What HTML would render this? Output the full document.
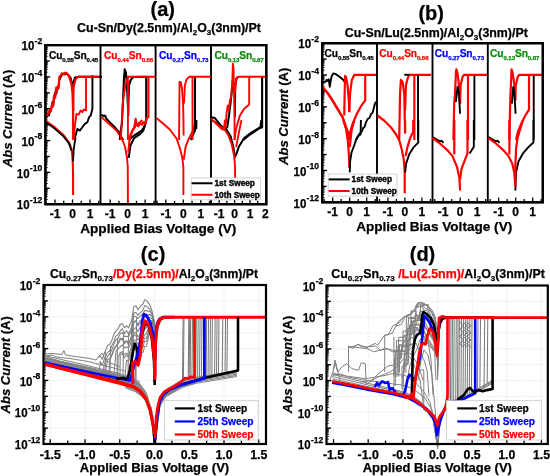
<!DOCTYPE html><html><head><meta charset="utf-8"><style>html,body{margin:0;padding:0;background:#fff;overflow:hidden}svg{display:block;filter:blur(0.3px)}</style></head><body><svg width="550" height="476" viewBox="0 0 550 476">
<rect width="550" height="476" fill="#fff"/>
<line x1="55" y1="204.2" x2="55" y2="199.4" stroke="#000" stroke-width="1.3"/>
<line x1="63.75" y1="204.2" x2="63.75" y2="200.8" stroke="#000" stroke-width="1.3"/>
<line x1="72.5" y1="204.2" x2="72.5" y2="199.4" stroke="#000" stroke-width="1.3"/>
<line x1="81.25" y1="204.2" x2="81.25" y2="200.8" stroke="#000" stroke-width="1.3"/>
<line x1="90" y1="204.2" x2="90" y2="199.4" stroke="#000" stroke-width="1.3"/>
<line x1="98.75" y1="204.2" x2="98.75" y2="200.8" stroke="#000" stroke-width="1.3"/>
<text x="55" y="218.2" font-size="12" text-anchor="middle" fill="#000" font-family="Liberation Sans, sans-serif" font-weight="bold" stroke-width="0.25" paint-order="fill"  stroke="#000">-1</text>
<text x="72.5" y="218.2" font-size="12" text-anchor="middle" fill="#000" font-family="Liberation Sans, sans-serif" font-weight="bold" stroke-width="0.25" paint-order="fill"  stroke="#000">0</text>
<text x="90" y="218.2" font-size="12" text-anchor="middle" fill="#000" font-family="Liberation Sans, sans-serif" font-weight="bold" stroke-width="0.25" paint-order="fill"  stroke="#000">1</text>
<line x1="110.2" y1="204.2" x2="110.2" y2="199.4" stroke="#000" stroke-width="1.3"/>
<line x1="118.95" y1="204.2" x2="118.95" y2="200.8" stroke="#000" stroke-width="1.3"/>
<line x1="127.7" y1="204.2" x2="127.7" y2="199.4" stroke="#000" stroke-width="1.3"/>
<line x1="136.45" y1="204.2" x2="136.45" y2="200.8" stroke="#000" stroke-width="1.3"/>
<line x1="145.2" y1="204.2" x2="145.2" y2="199.4" stroke="#000" stroke-width="1.3"/>
<line x1="153.95" y1="204.2" x2="153.95" y2="200.8" stroke="#000" stroke-width="1.3"/>
<text x="110.2" y="218.2" font-size="12" text-anchor="middle" fill="#000" font-family="Liberation Sans, sans-serif" font-weight="bold" stroke-width="0.25" paint-order="fill"  stroke="#000">-1</text>
<text x="127.7" y="218.2" font-size="12" text-anchor="middle" fill="#000" font-family="Liberation Sans, sans-serif" font-weight="bold" stroke-width="0.25" paint-order="fill"  stroke="#000">0</text>
<text x="145.2" y="218.2" font-size="12" text-anchor="middle" fill="#000" font-family="Liberation Sans, sans-serif" font-weight="bold" stroke-width="0.25" paint-order="fill"  stroke="#000">1</text>
<line x1="157.05" y1="204.2" x2="157.05" y2="200.8" stroke="#000" stroke-width="1.3"/>
<line x1="165.8" y1="204.2" x2="165.8" y2="199.4" stroke="#000" stroke-width="1.3"/>
<line x1="174.55" y1="204.2" x2="174.55" y2="200.8" stroke="#000" stroke-width="1.3"/>
<line x1="183.3" y1="204.2" x2="183.3" y2="199.4" stroke="#000" stroke-width="1.3"/>
<line x1="192.05" y1="204.2" x2="192.05" y2="200.8" stroke="#000" stroke-width="1.3"/>
<line x1="200.8" y1="204.2" x2="200.8" y2="199.4" stroke="#000" stroke-width="1.3"/>
<line x1="209.55" y1="204.2" x2="209.55" y2="200.8" stroke="#000" stroke-width="1.3"/>
<text x="165.8" y="218.2" font-size="12" text-anchor="middle" fill="#000" font-family="Liberation Sans, sans-serif" font-weight="bold" stroke-width="0.25" paint-order="fill"  stroke="#000">-1</text>
<text x="183.3" y="218.2" font-size="12" text-anchor="middle" fill="#000" font-family="Liberation Sans, sans-serif" font-weight="bold" stroke-width="0.25" paint-order="fill"  stroke="#000">0</text>
<text x="200.8" y="218.2" font-size="12" text-anchor="middle" fill="#000" font-family="Liberation Sans, sans-serif" font-weight="bold" stroke-width="0.25" paint-order="fill"  stroke="#000">1</text>
<line x1="219.2" y1="204.2" x2="219.2" y2="199.4" stroke="#000" stroke-width="1.3"/>
<line x1="226.9" y1="204.2" x2="226.9" y2="200.8" stroke="#000" stroke-width="1.3"/>
<line x1="234.6" y1="204.2" x2="234.6" y2="199.4" stroke="#000" stroke-width="1.3"/>
<line x1="242.3" y1="204.2" x2="242.3" y2="200.8" stroke="#000" stroke-width="1.3"/>
<line x1="250" y1="204.2" x2="250" y2="199.4" stroke="#000" stroke-width="1.3"/>
<line x1="257.7" y1="204.2" x2="257.7" y2="200.8" stroke="#000" stroke-width="1.3"/>
<text x="219.2" y="218.2" font-size="12" text-anchor="middle" fill="#000" font-family="Liberation Sans, sans-serif" font-weight="bold" stroke-width="0.25" paint-order="fill"  stroke="#000">-1</text>
<text x="234.6" y="218.2" font-size="12" text-anchor="middle" fill="#000" font-family="Liberation Sans, sans-serif" font-weight="bold" stroke-width="0.25" paint-order="fill"  stroke="#000">0</text>
<text x="250" y="218.2" font-size="12" text-anchor="middle" fill="#000" font-family="Liberation Sans, sans-serif" font-weight="bold" stroke-width="0.25" paint-order="fill"  stroke="#000">1</text>
<text x="265.4" y="218.2" font-size="12" text-anchor="middle" fill="#000" font-family="Liberation Sans, sans-serif" font-weight="bold" stroke-width="0.25" paint-order="fill"  stroke="#000">2</text>
<line x1="45.4" y1="204.2" x2="50.2" y2="204.2" stroke="#000" stroke-width="1.4"/>
<line x1="45.4" y1="199.41" x2="47.8" y2="199.41" stroke="#000" stroke-width="0.8"/>
<line x1="45.4" y1="196.61" x2="47.8" y2="196.61" stroke="#000" stroke-width="0.8"/>
<line x1="45.4" y1="194.62" x2="47.8" y2="194.62" stroke="#000" stroke-width="0.8"/>
<line x1="45.4" y1="193.08" x2="47.8" y2="193.08" stroke="#000" stroke-width="0.8"/>
<line x1="45.4" y1="191.82" x2="47.8" y2="191.82" stroke="#000" stroke-width="0.8"/>
<line x1="45.4" y1="190.75" x2="47.8" y2="190.75" stroke="#000" stroke-width="0.8"/>
<line x1="45.4" y1="189.83" x2="47.8" y2="189.83" stroke="#000" stroke-width="0.8"/>
<line x1="45.4" y1="189.02" x2="47.8" y2="189.02" stroke="#000" stroke-width="0.8"/>
<text x="42.2" y="203.1" font-size="8.6" text-anchor="end" font-family="Liberation Sans, sans-serif" font-weight="bold" stroke-width="0.25" paint-order="fill" stroke="#000">-12</text>
<text x="29.57" y="209.4" font-size="13" text-anchor="end" textLength="12.8" lengthAdjust="spacingAndGlyphs" font-family="Liberation Sans, sans-serif" font-weight="bold" stroke-width="0.25" paint-order="fill" stroke="#000">10</text>
<line x1="45.4" y1="188.29" x2="49.8" y2="188.29" stroke="#000" stroke-width="1.4"/>
<line x1="45.4" y1="183.5" x2="47.8" y2="183.5" stroke="#000" stroke-width="0.8"/>
<line x1="45.4" y1="180.7" x2="47.8" y2="180.7" stroke="#000" stroke-width="0.8"/>
<line x1="45.4" y1="178.71" x2="47.8" y2="178.71" stroke="#000" stroke-width="0.8"/>
<line x1="45.4" y1="177.17" x2="47.8" y2="177.17" stroke="#000" stroke-width="0.8"/>
<line x1="45.4" y1="175.91" x2="47.8" y2="175.91" stroke="#000" stroke-width="0.8"/>
<line x1="45.4" y1="174.84" x2="47.8" y2="174.84" stroke="#000" stroke-width="0.8"/>
<line x1="45.4" y1="173.92" x2="47.8" y2="173.92" stroke="#000" stroke-width="0.8"/>
<line x1="45.4" y1="173.11" x2="47.8" y2="173.11" stroke="#000" stroke-width="0.8"/>
<line x1="45.4" y1="172.38" x2="50.2" y2="172.38" stroke="#000" stroke-width="1.4"/>
<line x1="45.4" y1="167.59" x2="47.8" y2="167.59" stroke="#000" stroke-width="0.8"/>
<line x1="45.4" y1="164.79" x2="47.8" y2="164.79" stroke="#000" stroke-width="0.8"/>
<line x1="45.4" y1="162.8" x2="47.8" y2="162.8" stroke="#000" stroke-width="0.8"/>
<line x1="45.4" y1="161.26" x2="47.8" y2="161.26" stroke="#000" stroke-width="0.8"/>
<line x1="45.4" y1="160" x2="47.8" y2="160" stroke="#000" stroke-width="0.8"/>
<line x1="45.4" y1="158.93" x2="47.8" y2="158.93" stroke="#000" stroke-width="0.8"/>
<line x1="45.4" y1="158.01" x2="47.8" y2="158.01" stroke="#000" stroke-width="0.8"/>
<line x1="45.4" y1="157.2" x2="47.8" y2="157.2" stroke="#000" stroke-width="0.8"/>
<text x="42.2" y="171.28" font-size="8.6" text-anchor="end" font-family="Liberation Sans, sans-serif" font-weight="bold" stroke-width="0.25" paint-order="fill" stroke="#000">-10</text>
<text x="29.57" y="177.58" font-size="13" text-anchor="end" textLength="12.8" lengthAdjust="spacingAndGlyphs" font-family="Liberation Sans, sans-serif" font-weight="bold" stroke-width="0.25" paint-order="fill" stroke="#000">10</text>
<line x1="45.4" y1="156.47" x2="49.8" y2="156.47" stroke="#000" stroke-width="1.4"/>
<line x1="45.4" y1="151.68" x2="47.8" y2="151.68" stroke="#000" stroke-width="0.8"/>
<line x1="45.4" y1="148.88" x2="47.8" y2="148.88" stroke="#000" stroke-width="0.8"/>
<line x1="45.4" y1="146.89" x2="47.8" y2="146.89" stroke="#000" stroke-width="0.8"/>
<line x1="45.4" y1="145.35" x2="47.8" y2="145.35" stroke="#000" stroke-width="0.8"/>
<line x1="45.4" y1="144.09" x2="47.8" y2="144.09" stroke="#000" stroke-width="0.8"/>
<line x1="45.4" y1="143.02" x2="47.8" y2="143.02" stroke="#000" stroke-width="0.8"/>
<line x1="45.4" y1="142.1" x2="47.8" y2="142.1" stroke="#000" stroke-width="0.8"/>
<line x1="45.4" y1="141.29" x2="47.8" y2="141.29" stroke="#000" stroke-width="0.8"/>
<line x1="45.4" y1="140.56" x2="50.2" y2="140.56" stroke="#000" stroke-width="1.4"/>
<line x1="45.4" y1="135.77" x2="47.8" y2="135.77" stroke="#000" stroke-width="0.8"/>
<line x1="45.4" y1="132.97" x2="47.8" y2="132.97" stroke="#000" stroke-width="0.8"/>
<line x1="45.4" y1="130.98" x2="47.8" y2="130.98" stroke="#000" stroke-width="0.8"/>
<line x1="45.4" y1="129.44" x2="47.8" y2="129.44" stroke="#000" stroke-width="0.8"/>
<line x1="45.4" y1="128.18" x2="47.8" y2="128.18" stroke="#000" stroke-width="0.8"/>
<line x1="45.4" y1="127.11" x2="47.8" y2="127.11" stroke="#000" stroke-width="0.8"/>
<line x1="45.4" y1="126.19" x2="47.8" y2="126.19" stroke="#000" stroke-width="0.8"/>
<line x1="45.4" y1="125.38" x2="47.8" y2="125.38" stroke="#000" stroke-width="0.8"/>
<text x="42.2" y="139.46" font-size="8.6" text-anchor="end" font-family="Liberation Sans, sans-serif" font-weight="bold" stroke-width="0.25" paint-order="fill" stroke="#000">-8</text>
<text x="34.35" y="145.76" font-size="13" text-anchor="end" textLength="12.8" lengthAdjust="spacingAndGlyphs" font-family="Liberation Sans, sans-serif" font-weight="bold" stroke-width="0.25" paint-order="fill" stroke="#000">10</text>
<line x1="45.4" y1="124.65" x2="49.8" y2="124.65" stroke="#000" stroke-width="1.4"/>
<line x1="45.4" y1="119.86" x2="47.8" y2="119.86" stroke="#000" stroke-width="0.8"/>
<line x1="45.4" y1="117.06" x2="47.8" y2="117.06" stroke="#000" stroke-width="0.8"/>
<line x1="45.4" y1="115.07" x2="47.8" y2="115.07" stroke="#000" stroke-width="0.8"/>
<line x1="45.4" y1="113.53" x2="47.8" y2="113.53" stroke="#000" stroke-width="0.8"/>
<line x1="45.4" y1="112.27" x2="47.8" y2="112.27" stroke="#000" stroke-width="0.8"/>
<line x1="45.4" y1="111.2" x2="47.8" y2="111.2" stroke="#000" stroke-width="0.8"/>
<line x1="45.4" y1="110.28" x2="47.8" y2="110.28" stroke="#000" stroke-width="0.8"/>
<line x1="45.4" y1="109.47" x2="47.8" y2="109.47" stroke="#000" stroke-width="0.8"/>
<line x1="45.4" y1="108.74" x2="50.2" y2="108.74" stroke="#000" stroke-width="1.4"/>
<line x1="45.4" y1="103.95" x2="47.8" y2="103.95" stroke="#000" stroke-width="0.8"/>
<line x1="45.4" y1="101.15" x2="47.8" y2="101.15" stroke="#000" stroke-width="0.8"/>
<line x1="45.4" y1="99.16" x2="47.8" y2="99.16" stroke="#000" stroke-width="0.8"/>
<line x1="45.4" y1="97.62" x2="47.8" y2="97.62" stroke="#000" stroke-width="0.8"/>
<line x1="45.4" y1="96.36" x2="47.8" y2="96.36" stroke="#000" stroke-width="0.8"/>
<line x1="45.4" y1="95.29" x2="47.8" y2="95.29" stroke="#000" stroke-width="0.8"/>
<line x1="45.4" y1="94.37" x2="47.8" y2="94.37" stroke="#000" stroke-width="0.8"/>
<line x1="45.4" y1="93.56" x2="47.8" y2="93.56" stroke="#000" stroke-width="0.8"/>
<text x="42.2" y="107.64" font-size="8.6" text-anchor="end" font-family="Liberation Sans, sans-serif" font-weight="bold" stroke-width="0.25" paint-order="fill" stroke="#000">-6</text>
<text x="34.35" y="113.94" font-size="13" text-anchor="end" textLength="12.8" lengthAdjust="spacingAndGlyphs" font-family="Liberation Sans, sans-serif" font-weight="bold" stroke-width="0.25" paint-order="fill" stroke="#000">10</text>
<line x1="45.4" y1="92.83" x2="49.8" y2="92.83" stroke="#000" stroke-width="1.4"/>
<line x1="45.4" y1="88.04" x2="47.8" y2="88.04" stroke="#000" stroke-width="0.8"/>
<line x1="45.4" y1="85.24" x2="47.8" y2="85.24" stroke="#000" stroke-width="0.8"/>
<line x1="45.4" y1="83.25" x2="47.8" y2="83.25" stroke="#000" stroke-width="0.8"/>
<line x1="45.4" y1="81.71" x2="47.8" y2="81.71" stroke="#000" stroke-width="0.8"/>
<line x1="45.4" y1="80.45" x2="47.8" y2="80.45" stroke="#000" stroke-width="0.8"/>
<line x1="45.4" y1="79.38" x2="47.8" y2="79.38" stroke="#000" stroke-width="0.8"/>
<line x1="45.4" y1="78.46" x2="47.8" y2="78.46" stroke="#000" stroke-width="0.8"/>
<line x1="45.4" y1="77.65" x2="47.8" y2="77.65" stroke="#000" stroke-width="0.8"/>
<line x1="45.4" y1="76.92" x2="50.2" y2="76.92" stroke="#000" stroke-width="1.4"/>
<line x1="45.4" y1="72.13" x2="47.8" y2="72.13" stroke="#000" stroke-width="0.8"/>
<line x1="45.4" y1="69.33" x2="47.8" y2="69.33" stroke="#000" stroke-width="0.8"/>
<line x1="45.4" y1="67.34" x2="47.8" y2="67.34" stroke="#000" stroke-width="0.8"/>
<line x1="45.4" y1="65.8" x2="47.8" y2="65.8" stroke="#000" stroke-width="0.8"/>
<line x1="45.4" y1="64.54" x2="47.8" y2="64.54" stroke="#000" stroke-width="0.8"/>
<line x1="45.4" y1="63.47" x2="47.8" y2="63.47" stroke="#000" stroke-width="0.8"/>
<line x1="45.4" y1="62.55" x2="47.8" y2="62.55" stroke="#000" stroke-width="0.8"/>
<line x1="45.4" y1="61.74" x2="47.8" y2="61.74" stroke="#000" stroke-width="0.8"/>
<text x="42.2" y="75.82" font-size="8.6" text-anchor="end" font-family="Liberation Sans, sans-serif" font-weight="bold" stroke-width="0.25" paint-order="fill" stroke="#000">-4</text>
<text x="34.35" y="82.12" font-size="13" text-anchor="end" textLength="12.8" lengthAdjust="spacingAndGlyphs" font-family="Liberation Sans, sans-serif" font-weight="bold" stroke-width="0.25" paint-order="fill" stroke="#000">10</text>
<line x1="45.4" y1="61.01" x2="49.8" y2="61.01" stroke="#000" stroke-width="1.4"/>
<line x1="45.4" y1="56.22" x2="47.8" y2="56.22" stroke="#000" stroke-width="0.8"/>
<line x1="45.4" y1="53.42" x2="47.8" y2="53.42" stroke="#000" stroke-width="0.8"/>
<line x1="45.4" y1="51.43" x2="47.8" y2="51.43" stroke="#000" stroke-width="0.8"/>
<line x1="45.4" y1="49.89" x2="47.8" y2="49.89" stroke="#000" stroke-width="0.8"/>
<line x1="45.4" y1="48.63" x2="47.8" y2="48.63" stroke="#000" stroke-width="0.8"/>
<line x1="45.4" y1="47.56" x2="47.8" y2="47.56" stroke="#000" stroke-width="0.8"/>
<line x1="45.4" y1="46.64" x2="47.8" y2="46.64" stroke="#000" stroke-width="0.8"/>
<line x1="45.4" y1="45.83" x2="47.8" y2="45.83" stroke="#000" stroke-width="0.8"/>
<line x1="45.4" y1="45.1" x2="50.2" y2="45.1" stroke="#000" stroke-width="1.4"/>
<text x="42.2" y="44" font-size="8.6" text-anchor="end" font-family="Liberation Sans, sans-serif" font-weight="bold" stroke-width="0.25" paint-order="fill" stroke="#000">-2</text>
<text x="34.35" y="50.3" font-size="13" text-anchor="end" textLength="12.8" lengthAdjust="spacingAndGlyphs" font-family="Liberation Sans, sans-serif" font-weight="bold" stroke-width="0.25" paint-order="fill" stroke="#000">10</text>
<line x1="100.5" y1="45.1" x2="100.5" y2="204.2" stroke="#000" stroke-width="1.9"/>
<line x1="155.6" y1="45.1" x2="155.6" y2="204.2" stroke="#000" stroke-width="1.9"/>
<line x1="211" y1="45.1" x2="211" y2="204.2" stroke="#000" stroke-width="1.9"/>
<text x="48.9" y="58.6" font-size="10.2" fill="#000" font-family="Liberation Sans, sans-serif" font-weight="bold" stroke-width="0.25" paint-order="fill" letter-spacing="-0.1" stroke="#000">Cu<tspan font-size="6.1" dy="3.6">0.55</tspan><tspan dy="-3.6">Sn</tspan><tspan font-size="6.1" dy="3.6">0.45</tspan></text>
<text x="104" y="58.6" font-size="10.2" fill="#ff0000" font-family="Liberation Sans, sans-serif" font-weight="bold" stroke-width="0.25" paint-order="fill" letter-spacing="-0.1" stroke="#ff0000">Cu<tspan font-size="6.1" dy="3.6">0.44</tspan><tspan dy="-3.6">Sn</tspan><tspan font-size="6.1" dy="3.6">0.56</tspan></text>
<text x="159.1" y="58.6" font-size="10.2" fill="#0000ff" font-family="Liberation Sans, sans-serif" font-weight="bold" stroke-width="0.25" paint-order="fill" letter-spacing="-0.1" stroke="#0000ff">Cu<tspan font-size="6.1" dy="3.6">0.27</tspan><tspan dy="-3.6">Sn</tspan><tspan font-size="6.1" dy="3.6">0.73</tspan></text>
<text x="214.5" y="58.6" font-size="10.2" fill="#0b8a0b" font-family="Liberation Sans, sans-serif" font-weight="bold" stroke-width="0.25" paint-order="fill" letter-spacing="-0.1" stroke="#0b8a0b">Cu<tspan font-size="6.1" dy="3.6">0.13</tspan><tspan dy="-3.6">Sn</tspan><tspan font-size="6.1" dy="3.6">0.87</tspan></text>
<rect x="45.4" y="45.1" width="220.9" height="159.1" fill="none" stroke="#000" stroke-width="2.2"/>
<text x="162.8" y="16.2" font-size="20" text-anchor="middle" fill="#000" font-family="Liberation Sans, sans-serif" font-weight="bold" stroke-width="0.25" paint-order="fill"  stroke="#000">(a)</text>
<text x="169" y="32.4" font-size="12.4" text-anchor="middle" font-family="Liberation Sans, sans-serif" font-weight="bold" stroke-width="0.25" paint-order="fill" stroke="#000">Cu-Sn/Dy(2.5nm)/Al<tspan font-size="8" dy="3">2</tspan><tspan dy="-3">O</tspan><tspan font-size="8" dy="3">3</tspan><tspan dy="-3">(3nm)/Pt</tspan></text>
<text x="158.3" y="232.6" font-size="13.6" text-anchor="middle" fill="#000" font-family="Liberation Sans, sans-serif" font-weight="bold" stroke-width="0.25" paint-order="fill"  stroke="#000">Applied Bias Voltage (V)</text>
<text x="12" y="118.5" font-size="13.1" text-anchor="middle" font-family="Liberation Sans, sans-serif" font-weight="bold" stroke-width="0.25" paint-order="fill" transform="rotate(-90 12 118.5)" stroke="#000"><tspan font-style="italic">Abs Current</tspan> (A)</text>
<polyline points="45.61,120.9 54.65,127.23 63.69,135.36 69.11,142.58 71.82,149.81 72.72,161.55 73.08,174.2 73.08,194.98" fill="none" stroke="#ff0000" stroke-width="2.1" stroke-linejoin="round" stroke-linecap="butt" />
<polyline points="45.61,122.17 54.65,128.67 63.69,136.62 69.11,143.85 71.46,150.71" fill="none" stroke="#000000" stroke-width="1.7" stroke-linejoin="round" stroke-linecap="butt" />
<polyline points="92.42,75.13 92.42,108.74 90.74,115.46 89.06,117.14 87.38,122.18 84.86,123.87 82.34,127.23 79.82,130.59 77.29,128.91 75.61,135.63 73.93,140" fill="none" stroke="#000000" stroke-width="1.9" stroke-linejoin="round" stroke-linecap="butt" />
<polyline points="75.61,137.71 74.53,143.49 73.63,150.71 73.08,161.55" fill="none" stroke="#000000" stroke-width="1.8" stroke-linejoin="round" stroke-linecap="butt" />
<polyline points="46.2,117.98 47.88,114.62 49.06,115.46 50.4,108.74 51.75,107.06 52.42,102.02 53.43,104.03 54.1,96.13 55.45,91.93 56.45,93.61 57.46,86.89 58.47,88.57 59.14,80.17 60.49,77.65 61.83,75.13 63.01,73.45 64.69,74.29 67.21,73.78 70.57,77.65 72.59,85.21 73.26,100.34 73.26,110.42 72.92,93.61 73.6,81.85 74.94,77.48 78.13,76.81 102,76.81" fill="none" stroke="#000000" stroke-width="1.9" stroke-linejoin="round" stroke-linecap="butt" />
<polyline points="46.2,116.3 48.39,113.45 49.56,110.42 50.74,111.26 52.08,104.54 53.09,106.22 54.1,96.13 55.11,97.82 56.29,87.73 57.46,89.41 58.81,85.21 59.48,76.81 60.82,75.46 61.83,73.45 63.51,74.29 65.53,72.61 67.21,73.78 68.89,75.97 71.41,83.53 72.59,93.61 73.09,110.42 73.09,140" fill="none" stroke="#ff0000" stroke-width="2.3" stroke-linejoin="round" stroke-linecap="butt" />
<polyline points="73.09,110.42 73.6,86.89 75.61,79.33 78.13,76.81 99.14,76.81" fill="none" stroke="#ff0000" stroke-width="2.1" stroke-linejoin="round" stroke-linecap="butt" />
<polyline points="86.03,76.81 86.03,110.42 84.02,109.58 82.34,112.1 80.66,110.42 78.64,114.62 76.45,113.78 74.77,127.23 73.6,140" fill="none" stroke="#ff0000" stroke-width="1.9" stroke-linejoin="round" stroke-linecap="butt" />
<polyline points="101.36,114.62 103.88,116.3 105.06,115.46 106.4,118.82 109.76,122.18 114.81,127.23 119.01,132.27 121.53,137.31 123.21,140" fill="none" stroke="#000000" stroke-width="2.0" stroke-linejoin="round" stroke-linecap="butt" />
<polyline points="101.4,117.1 108.1,123 116.5,130.6 121.5,137.8 125.1,147 126.9,157 127.8,166.9 127.9,203" fill="none" stroke="#ff0000" stroke-width="1.9" stroke-linejoin="round" stroke-linecap="butt" />
<polyline points="119.85,140 120.69,130.59 121.87,123.87 123.21,96.97 123.88,80.17 124.72,69.24 125.9,72.61 126.91,83.53 127.58,98.66 128.25,115.46 128.42,102.02 129.09,85.21 130.77,79.83 133.29,76.97 146.24,76.81 146.24,120.5 144.22,127.23 141.7,130.59 136.66,133.95 131.61,137.31 129.09,140" fill="none" stroke="#000000" stroke-width="2.1" stroke-linejoin="round" stroke-linecap="butt" />
<polyline points="128.72,157.94 130.53,145.29 134.14,138.07 139.57,134.45 143.18,130.84 145.35,123.61 145.89,120" fill="none" stroke="#000000" stroke-width="2.0" stroke-linejoin="round" stroke-linecap="butt" />
<polyline points="120.69,140 121.53,127.23 122.37,110.42 123.21,98.66 124.05,93.61 125.73,83.53 126.91,80.17 127.92,76.81 155.14,76.81" fill="none" stroke="#ff0000" stroke-width="1.9" stroke-linejoin="round" stroke-linecap="butt" />
<polyline points="127.92,76.81 127.92,140" fill="none" stroke="#ff0000" stroke-width="1.9" stroke-linejoin="round" stroke-linecap="butt" />
<polyline points="148.42,76.81 148.42,117.14 146.74,117.98 145.39,123.87 143.38,122.18 142.03,124.71 140.02,123.03 138.34,126.39 136.66,123.87 135.65,118.82 134.3,127.23 132.45,130.59 130.77,133.95 129.09,140" fill="none" stroke="#ff0000" stroke-width="2.1" stroke-linejoin="round" stroke-linecap="butt" />
<polyline points="128.36,152.52 129.63,138.07 132.34,130.84 135.95,125.42 139.57,122.71 142.28,120" fill="none" stroke="#ff0000" stroke-width="2.1" stroke-linejoin="round" stroke-linecap="butt" />
<polyline points="156.4,118 163.1,123.5 169.8,129.5 176.5,138.3 180.1,148.9 182.3,158 183.4,167 183.4,195" fill="none" stroke="#ff0000" stroke-width="1.9" stroke-linejoin="round" stroke-linecap="butt" />
<polyline points="183.72,159.75 185.53,147.1 188.24,139.87 190.95,134.45 193.66,129.03 195.47,120" fill="none" stroke="#ff0000" stroke-width="1.9" stroke-linejoin="round" stroke-linecap="butt" />
<polyline points="195.02,76.81 195.02,130.59 193.34,133.95 190.82,140" fill="none" stroke="#000000" stroke-width="2.0" stroke-linejoin="round" stroke-linecap="butt" />
<polyline points="193.66,129.94 196.37,128.13 196.37,120" fill="none" stroke="#000000" stroke-width="2.0" stroke-linejoin="round" stroke-linecap="butt" />
<polyline points="192.5,76.81 192.5,140" fill="none" stroke="#ff0000" stroke-width="1.9" stroke-linejoin="round" stroke-linecap="butt" />
<polyline points="179.05,140 179.55,81.85 180.73,82.18 181.91,87.73 182.92,100.34 183.42,117.14 183.59,135.46" fill="none" stroke="#ff0000" stroke-width="1.9" stroke-linejoin="round" stroke-linecap="butt" />
<polyline points="183.92,103.7 184.93,85.21 186.61,79.33 189.13,76.81 210.98,76.81" fill="none" stroke="#ff0000" stroke-width="1.9" stroke-linejoin="round" stroke-linecap="butt" />
<polyline points="211.36,117.14 214.72,117.98 218.08,122.18 221.45,126.39 224.81,128.91 227.33,127.23 229.01,115.46 230.69,102.02 232.37,85.21 233.21,78.49" fill="none" stroke="#000000" stroke-width="2.0" stroke-linejoin="round" stroke-linecap="butt" />
<polyline points="211.61,120 218.84,124.52 226.07,129.03 230.59,136.26 233.3,147.1 235.11,157.94" fill="none" stroke="#000000" stroke-width="2.0" stroke-linejoin="round" stroke-linecap="butt" />
<polyline points="235.65,156.13 238.72,147.1 244.14,138.07 251.37,132.65 260.41,127.23 261.31,120" fill="none" stroke="#000000" stroke-width="2.0" stroke-linejoin="round" stroke-linecap="butt" />
<polyline points="262.12,76.81 262.12,127.23 258.42,128.91 253.38,132.27 248.34,135.63 243.29,140" fill="none" stroke="#000000" stroke-width="2.1" stroke-linejoin="round" stroke-linecap="butt" />
<polyline points="234.89,117.14 235.23,85.21 236.57,78.49 238.25,76.81" fill="none" stroke="#000000" stroke-width="2.0" stroke-linejoin="round" stroke-linecap="butt" />
<polyline points="215.23,122.71 218.84,125.42 224.27,129.03 227.88,134.45 231.49,143.49 234.2,156.13 235.11,166.97 235.11,179.62" fill="none" stroke="#ff0000" stroke-width="1.9" stroke-linejoin="round" stroke-linecap="butt" />
<polyline points="211.36,118.82 216.4,123.87 221.45,128.91 223.97,129.75 224.81,120.5 225.65,127.23 226.49,113.78 227.83,105.38 229.01,110.42 229.85,100.34 231.19,96.97 232.37,80.17 232.87,63.7 233.55,68.4 234.05,93.61 234.55,117.14 234.55,140" fill="none" stroke="#ff0000" stroke-width="1.9" stroke-linejoin="round" stroke-linecap="butt" />
<polyline points="234.55,140 235.73,130.59 237.41,123.87 239.93,115.46 244.13,108.74 249.18,104.54 249.18,76.81" fill="none" stroke="#ff0000" stroke-width="1.9" stroke-linejoin="round" stroke-linecap="butt" />
<polyline points="234.89,93.61 235.73,83.53 236.57,77.65 238.25,76.81 265.98,76.81" fill="none" stroke="#ff0000" stroke-width="1.9" stroke-linejoin="round" stroke-linecap="butt" />
<polyline points="236.19,147.1 237.82,138.07 239.63,129.03 241.43,120" fill="none" stroke="#ff0000" stroke-width="1.9" stroke-linejoin="round" stroke-linecap="butt" />
<rect x="45.4" y="45.1" width="220.9" height="159.1" fill="none" stroke="#000" stroke-width="2.2"/>
<rect x="191.1" y="177.9" width="69.4" height="21.9" fill="#fff" stroke="#c8c8c8" stroke-width="0.8"/>
<line x1="191.6" y1="183.27" x2="212.6" y2="183.27" stroke="#000" stroke-width="2"/>
<line x1="191.6" y1="194.76" x2="212.6" y2="194.76" stroke="#ff0000" stroke-width="2"/>
<text x="214.5" y="186.27" font-size="8.6" text-anchor="start" fill="#000" font-family="Liberation Sans, sans-serif" font-weight="bold" stroke-width="0.25" paint-order="fill" textLength="40.4" lengthAdjust="spacingAndGlyphs" style="stroke-width:0.4px" stroke="#000">1st Sweep</text>
<text x="214.5" y="197.76" font-size="8.6" text-anchor="start" fill="#000" font-family="Liberation Sans, sans-serif" font-weight="bold" stroke-width="0.25" paint-order="fill" textLength="45.3" lengthAdjust="spacingAndGlyphs" style="stroke-width:0.4px" stroke="#000">10th Sweep</text>
<line x1="324.2" y1="202.3" x2="324.2" y2="198.9" stroke="#000" stroke-width="1.3"/>
<line x1="332.7" y1="202.3" x2="332.7" y2="197.5" stroke="#000" stroke-width="1.3"/>
<line x1="341.2" y1="202.3" x2="341.2" y2="198.9" stroke="#000" stroke-width="1.3"/>
<line x1="349.7" y1="202.3" x2="349.7" y2="197.5" stroke="#000" stroke-width="1.3"/>
<line x1="358.2" y1="202.3" x2="358.2" y2="198.9" stroke="#000" stroke-width="1.3"/>
<line x1="366.7" y1="202.3" x2="366.7" y2="197.5" stroke="#000" stroke-width="1.3"/>
<line x1="375.2" y1="202.3" x2="375.2" y2="198.9" stroke="#000" stroke-width="1.3"/>
<text x="332.7" y="216.3" font-size="12" text-anchor="middle" fill="#000" font-family="Liberation Sans, sans-serif" font-weight="bold" stroke-width="0.25" paint-order="fill"  stroke="#000">-1</text>
<text x="349.7" y="216.3" font-size="12" text-anchor="middle" fill="#000" font-family="Liberation Sans, sans-serif" font-weight="bold" stroke-width="0.25" paint-order="fill"  stroke="#000">0</text>
<text x="366.7" y="216.3" font-size="12" text-anchor="middle" fill="#000" font-family="Liberation Sans, sans-serif" font-weight="bold" stroke-width="0.25" paint-order="fill"  stroke="#000">1</text>
<line x1="379.4" y1="202.3" x2="379.4" y2="198.9" stroke="#000" stroke-width="1.3"/>
<line x1="387.9" y1="202.3" x2="387.9" y2="197.5" stroke="#000" stroke-width="1.3"/>
<line x1="396.4" y1="202.3" x2="396.4" y2="198.9" stroke="#000" stroke-width="1.3"/>
<line x1="404.9" y1="202.3" x2="404.9" y2="197.5" stroke="#000" stroke-width="1.3"/>
<line x1="413.4" y1="202.3" x2="413.4" y2="198.9" stroke="#000" stroke-width="1.3"/>
<line x1="421.9" y1="202.3" x2="421.9" y2="197.5" stroke="#000" stroke-width="1.3"/>
<line x1="430.4" y1="202.3" x2="430.4" y2="198.9" stroke="#000" stroke-width="1.3"/>
<text x="387.9" y="216.3" font-size="12" text-anchor="middle" fill="#000" font-family="Liberation Sans, sans-serif" font-weight="bold" stroke-width="0.25" paint-order="fill"  stroke="#000">-1</text>
<text x="404.9" y="216.3" font-size="12" text-anchor="middle" fill="#000" font-family="Liberation Sans, sans-serif" font-weight="bold" stroke-width="0.25" paint-order="fill"  stroke="#000">0</text>
<text x="421.9" y="216.3" font-size="12" text-anchor="middle" fill="#000" font-family="Liberation Sans, sans-serif" font-weight="bold" stroke-width="0.25" paint-order="fill"  stroke="#000">1</text>
<line x1="434.7" y1="202.3" x2="434.7" y2="198.9" stroke="#000" stroke-width="1.3"/>
<line x1="443.2" y1="202.3" x2="443.2" y2="197.5" stroke="#000" stroke-width="1.3"/>
<line x1="451.7" y1="202.3" x2="451.7" y2="198.9" stroke="#000" stroke-width="1.3"/>
<line x1="460.2" y1="202.3" x2="460.2" y2="197.5" stroke="#000" stroke-width="1.3"/>
<line x1="468.7" y1="202.3" x2="468.7" y2="198.9" stroke="#000" stroke-width="1.3"/>
<line x1="477.2" y1="202.3" x2="477.2" y2="197.5" stroke="#000" stroke-width="1.3"/>
<line x1="485.7" y1="202.3" x2="485.7" y2="198.9" stroke="#000" stroke-width="1.3"/>
<text x="443.2" y="216.3" font-size="12" text-anchor="middle" fill="#000" font-family="Liberation Sans, sans-serif" font-weight="bold" stroke-width="0.25" paint-order="fill"  stroke="#000">-1</text>
<text x="460.2" y="216.3" font-size="12" text-anchor="middle" fill="#000" font-family="Liberation Sans, sans-serif" font-weight="bold" stroke-width="0.25" paint-order="fill"  stroke="#000">0</text>
<text x="477.2" y="216.3" font-size="12" text-anchor="middle" fill="#000" font-family="Liberation Sans, sans-serif" font-weight="bold" stroke-width="0.25" paint-order="fill"  stroke="#000">1</text>
<line x1="490.2" y1="202.3" x2="490.2" y2="198.9" stroke="#000" stroke-width="1.3"/>
<line x1="498.7" y1="202.3" x2="498.7" y2="197.5" stroke="#000" stroke-width="1.3"/>
<line x1="507.2" y1="202.3" x2="507.2" y2="198.9" stroke="#000" stroke-width="1.3"/>
<line x1="515.7" y1="202.3" x2="515.7" y2="197.5" stroke="#000" stroke-width="1.3"/>
<line x1="524.2" y1="202.3" x2="524.2" y2="198.9" stroke="#000" stroke-width="1.3"/>
<line x1="532.7" y1="202.3" x2="532.7" y2="197.5" stroke="#000" stroke-width="1.3"/>
<line x1="541.2" y1="202.3" x2="541.2" y2="198.9" stroke="#000" stroke-width="1.3"/>
<text x="498.7" y="216.3" font-size="12" text-anchor="middle" fill="#000" font-family="Liberation Sans, sans-serif" font-weight="bold" stroke-width="0.25" paint-order="fill"  stroke="#000">-1</text>
<text x="515.7" y="216.3" font-size="12" text-anchor="middle" fill="#000" font-family="Liberation Sans, sans-serif" font-weight="bold" stroke-width="0.25" paint-order="fill"  stroke="#000">0</text>
<text x="532.7" y="216.3" font-size="12" text-anchor="middle" fill="#000" font-family="Liberation Sans, sans-serif" font-weight="bold" stroke-width="0.25" paint-order="fill"  stroke="#000">1</text>
<line x1="322.2" y1="202.3" x2="327" y2="202.3" stroke="#000" stroke-width="1.4"/>
<line x1="322.2" y1="197.51" x2="324.6" y2="197.51" stroke="#000" stroke-width="0.8"/>
<line x1="322.2" y1="194.71" x2="324.6" y2="194.71" stroke="#000" stroke-width="0.8"/>
<line x1="322.2" y1="192.72" x2="324.6" y2="192.72" stroke="#000" stroke-width="0.8"/>
<line x1="322.2" y1="191.18" x2="324.6" y2="191.18" stroke="#000" stroke-width="0.8"/>
<line x1="322.2" y1="189.92" x2="324.6" y2="189.92" stroke="#000" stroke-width="0.8"/>
<line x1="322.2" y1="188.85" x2="324.6" y2="188.85" stroke="#000" stroke-width="0.8"/>
<line x1="322.2" y1="187.93" x2="324.6" y2="187.93" stroke="#000" stroke-width="0.8"/>
<line x1="322.2" y1="187.12" x2="324.6" y2="187.12" stroke="#000" stroke-width="0.8"/>
<text x="319" y="201.2" font-size="8.6" text-anchor="end" font-family="Liberation Sans, sans-serif" font-weight="bold" stroke-width="0.25" paint-order="fill" stroke="#000">-12</text>
<text x="306.37" y="207.5" font-size="13" text-anchor="end" textLength="12.8" lengthAdjust="spacingAndGlyphs" font-family="Liberation Sans, sans-serif" font-weight="bold" stroke-width="0.25" paint-order="fill" stroke="#000">10</text>
<line x1="322.2" y1="186.39" x2="326.6" y2="186.39" stroke="#000" stroke-width="1.4"/>
<line x1="322.2" y1="181.6" x2="324.6" y2="181.6" stroke="#000" stroke-width="0.8"/>
<line x1="322.2" y1="178.8" x2="324.6" y2="178.8" stroke="#000" stroke-width="0.8"/>
<line x1="322.2" y1="176.81" x2="324.6" y2="176.81" stroke="#000" stroke-width="0.8"/>
<line x1="322.2" y1="175.27" x2="324.6" y2="175.27" stroke="#000" stroke-width="0.8"/>
<line x1="322.2" y1="174.01" x2="324.6" y2="174.01" stroke="#000" stroke-width="0.8"/>
<line x1="322.2" y1="172.94" x2="324.6" y2="172.94" stroke="#000" stroke-width="0.8"/>
<line x1="322.2" y1="172.02" x2="324.6" y2="172.02" stroke="#000" stroke-width="0.8"/>
<line x1="322.2" y1="171.21" x2="324.6" y2="171.21" stroke="#000" stroke-width="0.8"/>
<line x1="322.2" y1="170.48" x2="327" y2="170.48" stroke="#000" stroke-width="1.4"/>
<line x1="322.2" y1="165.69" x2="324.6" y2="165.69" stroke="#000" stroke-width="0.8"/>
<line x1="322.2" y1="162.89" x2="324.6" y2="162.89" stroke="#000" stroke-width="0.8"/>
<line x1="322.2" y1="160.9" x2="324.6" y2="160.9" stroke="#000" stroke-width="0.8"/>
<line x1="322.2" y1="159.36" x2="324.6" y2="159.36" stroke="#000" stroke-width="0.8"/>
<line x1="322.2" y1="158.1" x2="324.6" y2="158.1" stroke="#000" stroke-width="0.8"/>
<line x1="322.2" y1="157.03" x2="324.6" y2="157.03" stroke="#000" stroke-width="0.8"/>
<line x1="322.2" y1="156.11" x2="324.6" y2="156.11" stroke="#000" stroke-width="0.8"/>
<line x1="322.2" y1="155.3" x2="324.6" y2="155.3" stroke="#000" stroke-width="0.8"/>
<text x="319" y="169.38" font-size="8.6" text-anchor="end" font-family="Liberation Sans, sans-serif" font-weight="bold" stroke-width="0.25" paint-order="fill" stroke="#000">-10</text>
<text x="306.37" y="175.68" font-size="13" text-anchor="end" textLength="12.8" lengthAdjust="spacingAndGlyphs" font-family="Liberation Sans, sans-serif" font-weight="bold" stroke-width="0.25" paint-order="fill" stroke="#000">10</text>
<line x1="322.2" y1="154.57" x2="326.6" y2="154.57" stroke="#000" stroke-width="1.4"/>
<line x1="322.2" y1="149.78" x2="324.6" y2="149.78" stroke="#000" stroke-width="0.8"/>
<line x1="322.2" y1="146.98" x2="324.6" y2="146.98" stroke="#000" stroke-width="0.8"/>
<line x1="322.2" y1="144.99" x2="324.6" y2="144.99" stroke="#000" stroke-width="0.8"/>
<line x1="322.2" y1="143.45" x2="324.6" y2="143.45" stroke="#000" stroke-width="0.8"/>
<line x1="322.2" y1="142.19" x2="324.6" y2="142.19" stroke="#000" stroke-width="0.8"/>
<line x1="322.2" y1="141.12" x2="324.6" y2="141.12" stroke="#000" stroke-width="0.8"/>
<line x1="322.2" y1="140.2" x2="324.6" y2="140.2" stroke="#000" stroke-width="0.8"/>
<line x1="322.2" y1="139.39" x2="324.6" y2="139.39" stroke="#000" stroke-width="0.8"/>
<line x1="322.2" y1="138.66" x2="327" y2="138.66" stroke="#000" stroke-width="1.4"/>
<line x1="322.2" y1="133.87" x2="324.6" y2="133.87" stroke="#000" stroke-width="0.8"/>
<line x1="322.2" y1="131.07" x2="324.6" y2="131.07" stroke="#000" stroke-width="0.8"/>
<line x1="322.2" y1="129.08" x2="324.6" y2="129.08" stroke="#000" stroke-width="0.8"/>
<line x1="322.2" y1="127.54" x2="324.6" y2="127.54" stroke="#000" stroke-width="0.8"/>
<line x1="322.2" y1="126.28" x2="324.6" y2="126.28" stroke="#000" stroke-width="0.8"/>
<line x1="322.2" y1="125.21" x2="324.6" y2="125.21" stroke="#000" stroke-width="0.8"/>
<line x1="322.2" y1="124.29" x2="324.6" y2="124.29" stroke="#000" stroke-width="0.8"/>
<line x1="322.2" y1="123.48" x2="324.6" y2="123.48" stroke="#000" stroke-width="0.8"/>
<text x="319" y="137.56" font-size="8.6" text-anchor="end" font-family="Liberation Sans, sans-serif" font-weight="bold" stroke-width="0.25" paint-order="fill" stroke="#000">-8</text>
<text x="311.15" y="143.86" font-size="13" text-anchor="end" textLength="12.8" lengthAdjust="spacingAndGlyphs" font-family="Liberation Sans, sans-serif" font-weight="bold" stroke-width="0.25" paint-order="fill" stroke="#000">10</text>
<line x1="322.2" y1="122.75" x2="326.6" y2="122.75" stroke="#000" stroke-width="1.4"/>
<line x1="322.2" y1="117.96" x2="324.6" y2="117.96" stroke="#000" stroke-width="0.8"/>
<line x1="322.2" y1="115.16" x2="324.6" y2="115.16" stroke="#000" stroke-width="0.8"/>
<line x1="322.2" y1="113.17" x2="324.6" y2="113.17" stroke="#000" stroke-width="0.8"/>
<line x1="322.2" y1="111.63" x2="324.6" y2="111.63" stroke="#000" stroke-width="0.8"/>
<line x1="322.2" y1="110.37" x2="324.6" y2="110.37" stroke="#000" stroke-width="0.8"/>
<line x1="322.2" y1="109.3" x2="324.6" y2="109.3" stroke="#000" stroke-width="0.8"/>
<line x1="322.2" y1="108.38" x2="324.6" y2="108.38" stroke="#000" stroke-width="0.8"/>
<line x1="322.2" y1="107.57" x2="324.6" y2="107.57" stroke="#000" stroke-width="0.8"/>
<line x1="322.2" y1="106.84" x2="327" y2="106.84" stroke="#000" stroke-width="1.4"/>
<line x1="322.2" y1="102.05" x2="324.6" y2="102.05" stroke="#000" stroke-width="0.8"/>
<line x1="322.2" y1="99.25" x2="324.6" y2="99.25" stroke="#000" stroke-width="0.8"/>
<line x1="322.2" y1="97.26" x2="324.6" y2="97.26" stroke="#000" stroke-width="0.8"/>
<line x1="322.2" y1="95.72" x2="324.6" y2="95.72" stroke="#000" stroke-width="0.8"/>
<line x1="322.2" y1="94.46" x2="324.6" y2="94.46" stroke="#000" stroke-width="0.8"/>
<line x1="322.2" y1="93.39" x2="324.6" y2="93.39" stroke="#000" stroke-width="0.8"/>
<line x1="322.2" y1="92.47" x2="324.6" y2="92.47" stroke="#000" stroke-width="0.8"/>
<line x1="322.2" y1="91.66" x2="324.6" y2="91.66" stroke="#000" stroke-width="0.8"/>
<text x="319" y="105.74" font-size="8.6" text-anchor="end" font-family="Liberation Sans, sans-serif" font-weight="bold" stroke-width="0.25" paint-order="fill" stroke="#000">-6</text>
<text x="311.15" y="112.04" font-size="13" text-anchor="end" textLength="12.8" lengthAdjust="spacingAndGlyphs" font-family="Liberation Sans, sans-serif" font-weight="bold" stroke-width="0.25" paint-order="fill" stroke="#000">10</text>
<line x1="322.2" y1="90.93" x2="326.6" y2="90.93" stroke="#000" stroke-width="1.4"/>
<line x1="322.2" y1="86.14" x2="324.6" y2="86.14" stroke="#000" stroke-width="0.8"/>
<line x1="322.2" y1="83.34" x2="324.6" y2="83.34" stroke="#000" stroke-width="0.8"/>
<line x1="322.2" y1="81.35" x2="324.6" y2="81.35" stroke="#000" stroke-width="0.8"/>
<line x1="322.2" y1="79.81" x2="324.6" y2="79.81" stroke="#000" stroke-width="0.8"/>
<line x1="322.2" y1="78.55" x2="324.6" y2="78.55" stroke="#000" stroke-width="0.8"/>
<line x1="322.2" y1="77.48" x2="324.6" y2="77.48" stroke="#000" stroke-width="0.8"/>
<line x1="322.2" y1="76.56" x2="324.6" y2="76.56" stroke="#000" stroke-width="0.8"/>
<line x1="322.2" y1="75.75" x2="324.6" y2="75.75" stroke="#000" stroke-width="0.8"/>
<line x1="322.2" y1="75.02" x2="327" y2="75.02" stroke="#000" stroke-width="1.4"/>
<line x1="322.2" y1="70.23" x2="324.6" y2="70.23" stroke="#000" stroke-width="0.8"/>
<line x1="322.2" y1="67.43" x2="324.6" y2="67.43" stroke="#000" stroke-width="0.8"/>
<line x1="322.2" y1="65.44" x2="324.6" y2="65.44" stroke="#000" stroke-width="0.8"/>
<line x1="322.2" y1="63.9" x2="324.6" y2="63.9" stroke="#000" stroke-width="0.8"/>
<line x1="322.2" y1="62.64" x2="324.6" y2="62.64" stroke="#000" stroke-width="0.8"/>
<line x1="322.2" y1="61.57" x2="324.6" y2="61.57" stroke="#000" stroke-width="0.8"/>
<line x1="322.2" y1="60.65" x2="324.6" y2="60.65" stroke="#000" stroke-width="0.8"/>
<line x1="322.2" y1="59.84" x2="324.6" y2="59.84" stroke="#000" stroke-width="0.8"/>
<text x="319" y="73.92" font-size="8.6" text-anchor="end" font-family="Liberation Sans, sans-serif" font-weight="bold" stroke-width="0.25" paint-order="fill" stroke="#000">-4</text>
<text x="311.15" y="80.22" font-size="13" text-anchor="end" textLength="12.8" lengthAdjust="spacingAndGlyphs" font-family="Liberation Sans, sans-serif" font-weight="bold" stroke-width="0.25" paint-order="fill" stroke="#000">10</text>
<line x1="322.2" y1="59.11" x2="326.6" y2="59.11" stroke="#000" stroke-width="1.4"/>
<line x1="322.2" y1="54.32" x2="324.6" y2="54.32" stroke="#000" stroke-width="0.8"/>
<line x1="322.2" y1="51.52" x2="324.6" y2="51.52" stroke="#000" stroke-width="0.8"/>
<line x1="322.2" y1="49.53" x2="324.6" y2="49.53" stroke="#000" stroke-width="0.8"/>
<line x1="322.2" y1="47.99" x2="324.6" y2="47.99" stroke="#000" stroke-width="0.8"/>
<line x1="322.2" y1="46.73" x2="324.6" y2="46.73" stroke="#000" stroke-width="0.8"/>
<line x1="322.2" y1="45.66" x2="324.6" y2="45.66" stroke="#000" stroke-width="0.8"/>
<line x1="322.2" y1="44.74" x2="324.6" y2="44.74" stroke="#000" stroke-width="0.8"/>
<line x1="322.2" y1="43.93" x2="324.6" y2="43.93" stroke="#000" stroke-width="0.8"/>
<line x1="322.2" y1="43.2" x2="327" y2="43.2" stroke="#000" stroke-width="1.4"/>
<text x="319" y="42.1" font-size="8.6" text-anchor="end" font-family="Liberation Sans, sans-serif" font-weight="bold" stroke-width="0.25" paint-order="fill" stroke="#000">-2</text>
<text x="311.15" y="48.4" font-size="13" text-anchor="end" textLength="12.8" lengthAdjust="spacingAndGlyphs" font-family="Liberation Sans, sans-serif" font-weight="bold" stroke-width="0.25" paint-order="fill" stroke="#000">10</text>
<line x1="377" y1="43.2" x2="377" y2="202.3" stroke="#000" stroke-width="1.9"/>
<line x1="432.5" y1="43.2" x2="432.5" y2="202.3" stroke="#000" stroke-width="1.9"/>
<line x1="487.8" y1="43.2" x2="487.8" y2="202.3" stroke="#000" stroke-width="1.9"/>
<text x="324.5" y="56.7" font-size="10.2" fill="#000" font-family="Liberation Sans, sans-serif" font-weight="bold" stroke-width="0.25" paint-order="fill" letter-spacing="-0.1" stroke="#000">Cu<tspan font-size="6.1" dy="3.6">0.55</tspan><tspan dy="-3.6">Sn</tspan><tspan font-size="6.1" dy="3.6">0.45</tspan></text>
<text x="379.3" y="56.7" font-size="10.2" fill="#ff0000" font-family="Liberation Sans, sans-serif" font-weight="bold" stroke-width="0.25" paint-order="fill" letter-spacing="-0.1" stroke="#ff0000">Cu<tspan font-size="6.1" dy="3.6">0.44</tspan><tspan dy="-3.6">Sn</tspan><tspan font-size="6.1" dy="3.6">0.56</tspan></text>
<text x="434.8" y="56.7" font-size="10.2" fill="#0000ff" font-family="Liberation Sans, sans-serif" font-weight="bold" stroke-width="0.25" paint-order="fill" letter-spacing="-0.1" stroke="#0000ff">Cu<tspan font-size="6.1" dy="3.6">0.27</tspan><tspan dy="-3.6">Sn</tspan><tspan font-size="6.1" dy="3.6">0.73</tspan></text>
<text x="490.1" y="56.7" font-size="10.2" fill="#0b8a0b" font-family="Liberation Sans, sans-serif" font-weight="bold" stroke-width="0.25" paint-order="fill" letter-spacing="-0.1" stroke="#0b8a0b">Cu<tspan font-size="6.1" dy="3.6">0.13</tspan><tspan dy="-3.6">Sn</tspan><tspan font-size="6.1" dy="3.6">0.87</tspan></text>
<rect x="322.2" y="43.2" width="220.6" height="159.1" fill="none" stroke="#000" stroke-width="2.2"/>
<text x="431.2" y="19.8" font-size="20" text-anchor="middle" fill="#000" font-family="Liberation Sans, sans-serif" font-weight="bold" stroke-width="0.25" paint-order="fill"  stroke="#000">(b)</text>
<text x="436.3" y="37.4" font-size="12.4" text-anchor="middle" font-family="Liberation Sans, sans-serif" font-weight="bold" stroke-width="0.25" paint-order="fill" stroke="#000">Cu-Sn/Lu(2.5nm)/Al<tspan font-size="8" dy="3">2</tspan><tspan dy="-3">O</tspan><tspan font-size="8" dy="3">3</tspan><tspan dy="-3">(3nm)/Pt</tspan></text>
<text x="434.2" y="231.2" font-size="13.6" text-anchor="middle" fill="#000" font-family="Liberation Sans, sans-serif" font-weight="bold" stroke-width="0.25" paint-order="fill"  stroke="#000">Applied Bias Voltage (V)</text>
<text x="288" y="116.3" font-size="13.1" text-anchor="middle" font-family="Liberation Sans, sans-serif" font-weight="bold" stroke-width="0.25" paint-order="fill" transform="rotate(-90 288 116.3)" stroke="#000"><tspan font-style="italic">Abs Current</tspan> (A)</text>
<polyline points="322.7,82.69 324.04,82.18 325.72,81.51 326.56,79.83 327.74,81.01 328.75,79.33 329.76,86.89 330.76,80.5 331.77,75.97 333.29,73.45 335.81,74.12 339.17,76.47 342.53,79.16 344.55,81.51" fill="none" stroke="#000000" stroke-width="1.9" stroke-linejoin="round" stroke-linecap="butt" />
<polyline points="322.36,86.89 327.4,92.77 332.45,100.34 337.49,108.74 342.53,117.14 345.89,127.23 348.41,133.95 349.25,140" fill="none" stroke="#ff0000" stroke-width="2.6" stroke-linejoin="round" stroke-linecap="butt" />
<polyline points="343.4,120 346.11,129.03 347.92,141.68 349,156.13 349.36,167.88" fill="none" stroke="#ff0000" stroke-width="2.2" stroke-linejoin="round" stroke-linecap="butt" />
<polyline points="344.21,115.46 345.05,75.97 345.89,76.81 347.57,85.21 348.92,102.02 349.25,112.1" fill="none" stroke="#ff0000" stroke-width="2.2" stroke-linejoin="round" stroke-linecap="butt" />
<polyline points="349.25,112.1 350.09,93.61 351.77,80.17 354.29,74.79 376.14,74.79" fill="none" stroke="#ff0000" stroke-width="2.2" stroke-linejoin="round" stroke-linecap="butt" />
<polyline points="365.22,74.79 365.22,100.34 361.02,106.22 356.82,113.78 352.61,123.87 350.09,132.27 349.25,140" fill="none" stroke="#ff0000" stroke-width="2.2" stroke-linejoin="round" stroke-linecap="butt" />
<polyline points="354.24,120 351.53,130.84 349.72,147.1" fill="none" stroke="#ff0000" stroke-width="2.2" stroke-linejoin="round" stroke-linecap="butt" />
<polyline points="355.97,140 359.34,133.95 361.86,131.43 363.03,128.07 364.38,127.23 366.06,122.18 367.74,118.82 369.42,117.98 371.1,113.78 372.45,112.94 373.62,108.74 374.46,105.38 375.3,102.86 376.98,101.18" fill="none" stroke="#000000" stroke-width="1.9" stroke-linejoin="round" stroke-linecap="butt" />
<polyline points="360.93,120 360.57,134.45 357.86,136.26 356.05,139.87 354.24,145.29 351.53,152.52 350.08,161.55 349.72,172.39" fill="none" stroke="#000000" stroke-width="1.9" stroke-linejoin="round" stroke-linecap="butt" />
<polyline points="377.4,115.5 384.1,120.5 390.8,127.2 395.8,134 399.5,141 401.8,149.5 403.8,159.8 404.7,170.6 404.7,193.2" fill="none" stroke="#ff0000" stroke-width="2.2" stroke-linejoin="round" stroke-linecap="butt" />
<polyline points="399.21,140 400.05,93.61 400.89,79.83 402.57,81.85 404.25,93.61 405.09,133.11" fill="none" stroke="#ff0000" stroke-width="2.2" stroke-linejoin="round" stroke-linecap="butt" />
<polyline points="405.08,120 405.08,133.55" fill="none" stroke="#ff0000" stroke-width="2.2" stroke-linejoin="round" stroke-linecap="butt" />
<polyline points="405.09,110.42 405.93,85.21 407.61,78.49 409.29,74.79 431.14,74.79" fill="none" stroke="#ff0000" stroke-width="2.2" stroke-linejoin="round" stroke-linecap="butt" />
<polyline points="404.25,74.79 409.29,74.79" fill="none" stroke="#000000" stroke-width="1.9" stroke-linejoin="round" stroke-linecap="butt" />
<polyline points="418.03,74.79 418.03,140" fill="none" stroke="#000000" stroke-width="1.9" stroke-linejoin="round" stroke-linecap="butt" />
<polyline points="418.28,120 418.28,142.58 413.76,147.1 409.24,154.33 406.17,163.36 405.08,172.39" fill="none" stroke="#000000" stroke-width="1.9" stroke-linejoin="round" stroke-linecap="butt" />
<polyline points="414.34,74.79 414.34,140" fill="none" stroke="#ff0000" stroke-width="2.2" stroke-linejoin="round" stroke-linecap="butt" />
<polyline points="413.22,120 413.22,131.74 410.14,138.07 407.43,147.1 405.63,156.13" fill="none" stroke="#ff0000" stroke-width="2.2" stroke-linejoin="round" stroke-linecap="butt" />
<polyline points="474.38,74.79 474.38,140" fill="none" stroke="#000000" stroke-width="1.9" stroke-linejoin="round" stroke-linecap="butt" />
<polyline points="473.82,120 473.82,146.74 469.66,153.42" fill="none" stroke="#000000" stroke-width="1.9" stroke-linejoin="round" stroke-linecap="butt" />
<polyline points="432.61,137.16 438.04,140.24 439.84,141.32 441.65,140.78 443.46,142.76" fill="none" stroke="#000000" stroke-width="1.9" stroke-linejoin="round" stroke-linecap="butt" />
<polyline points="432.61,138.07 439.84,143.49 447.07,149.81 452.49,156.13 457.01,166.97 459.36,177.82 460.08,190.46" fill="none" stroke="#ff0000" stroke-width="2.2" stroke-linejoin="round" stroke-linecap="butt" />
<polyline points="454.3,120 454.3,154.33" fill="none" stroke="#ff0000" stroke-width="2.2" stroke-linejoin="round" stroke-linecap="butt" />
<polyline points="453.37,140 454.21,103.7 455.05,93.61 455.89,73.45 456.39,69.24 457.57,73.45 458.92,85.21 460.09,103.7" fill="none" stroke="#ff0000" stroke-width="2.2" stroke-linejoin="round" stroke-linecap="butt" />
<polyline points="460.09,103.7 460.6,85.21 462.61,76.81 464.29,74.79 486.98,74.79" fill="none" stroke="#ff0000" stroke-width="2.2" stroke-linejoin="round" stroke-linecap="butt" />
<polyline points="455.89,102.02 457.57,86.89 458.92,93.61 460.09,113.78" fill="none" stroke="#000000" stroke-width="1.9" stroke-linejoin="round" stroke-linecap="butt" />
<polyline points="467.99,74.79 467.99,140" fill="none" stroke="#ff0000" stroke-width="2.2" stroke-linejoin="round" stroke-linecap="butt" />
<polyline points="467.49,120 467.49,153.42 464.24,161.55 461.53,168.78 460.08,179.62" fill="none" stroke="#ff0000" stroke-width="2.2" stroke-linejoin="round" stroke-linecap="butt" />
<polyline points="533.74,74.79 533.74,140" fill="none" stroke="#000000" stroke-width="1.9" stroke-linejoin="round" stroke-linecap="butt" />
<polyline points="533.43,120 533.43,142.58 528.37,147.1 522.95,153.42 518.43,161.55 516.08,172.39 515.36,190.46" fill="none" stroke="#000000" stroke-width="1.9" stroke-linejoin="round" stroke-linecap="butt" />
<polyline points="488.61,137.16 494.04,140.24 495.84,141.32 497.65,140.78 499.46,142.76" fill="none" stroke="#000000" stroke-width="1.9" stroke-linejoin="round" stroke-linecap="butt" />
<polyline points="488.61,138.07 495.84,143.49 503.07,149.81 508.49,156.13 512.11,163.36 514.28,172.39 515.36,186.85" fill="none" stroke="#ff0000" stroke-width="2.2" stroke-linejoin="round" stroke-linecap="butt" />
<polyline points="509.4,120 509.4,154.33" fill="none" stroke="#ff0000" stroke-width="2.2" stroke-linejoin="round" stroke-linecap="butt" />
<polyline points="509.37,140 510.21,102.02 511.55,69.24 512.73,73.45 514.41,85.21 515.25,100.34" fill="none" stroke="#ff0000" stroke-width="2.2" stroke-linejoin="round" stroke-linecap="butt" />
<polyline points="515.25,100.34 515.76,85.21 517.77,76.81 519.45,74.79 542.14,74.79" fill="none" stroke="#ff0000" stroke-width="2.2" stroke-linejoin="round" stroke-linecap="butt" />
<polyline points="511.89,103.7 513.24,86.89 514.41,93.61 515.59,113.78" fill="none" stroke="#000000" stroke-width="1.9" stroke-linejoin="round" stroke-linecap="butt" />
<polyline points="529.03,74.79 529.03,109.58 525.34,115.46 521.13,123.87 517.77,132.27 516.09,140" fill="none" stroke="#ff0000" stroke-width="2.2" stroke-linejoin="round" stroke-linecap="butt" />
<polyline points="522.95,120 520.24,129.03 517.53,138.07 516.08,148.91 515.36,165.17 515.36,179.62" fill="none" stroke="#ff0000" stroke-width="2.2" stroke-linejoin="round" stroke-linecap="butt" />
<rect x="322.2" y="43.2" width="220.6" height="159.1" fill="none" stroke="#000" stroke-width="2.2"/>
<rect x="328.2" y="174" width="68.7" height="22.1" fill="#fff" stroke="#c8c8c8" stroke-width="0.8"/>
<line x1="328.7" y1="179.41" x2="349.7" y2="179.41" stroke="#000" stroke-width="2"/>
<line x1="328.7" y1="191.02" x2="349.7" y2="191.02" stroke="#ff0000" stroke-width="2"/>
<text x="351.6" y="182.41" font-size="8.6" text-anchor="start" fill="#000" font-family="Liberation Sans, sans-serif" font-weight="bold" stroke-width="0.25" paint-order="fill" textLength="40.4" lengthAdjust="spacingAndGlyphs" style="stroke-width:0.4px" stroke="#000">1st Sweep</text>
<text x="351.6" y="194.02" font-size="8.6" text-anchor="start" fill="#000" font-family="Liberation Sans, sans-serif" font-weight="bold" stroke-width="0.25" paint-order="fill" textLength="45.3" lengthAdjust="spacingAndGlyphs" style="stroke-width:0.4px" stroke="#000">10th Sweep</text>
<line x1="50.25" y1="285" x2="50.25" y2="444" stroke="#d4d4d4" stroke-width="0.7" stroke-dasharray="1,1.4"/>
<line x1="85" y1="285" x2="85" y2="444" stroke="#d4d4d4" stroke-width="0.7" stroke-dasharray="1,1.4"/>
<line x1="119.75" y1="285" x2="119.75" y2="444" stroke="#d4d4d4" stroke-width="0.7" stroke-dasharray="1,1.4"/>
<line x1="154.5" y1="285" x2="154.5" y2="444" stroke="#d4d4d4" stroke-width="0.7" stroke-dasharray="1,1.4"/>
<line x1="189.25" y1="285" x2="189.25" y2="444" stroke="#d4d4d4" stroke-width="0.7" stroke-dasharray="1,1.4"/>
<line x1="224" y1="285" x2="224" y2="444" stroke="#d4d4d4" stroke-width="0.7" stroke-dasharray="1,1.4"/>
<line x1="258.75" y1="285" x2="258.75" y2="444" stroke="#d4d4d4" stroke-width="0.7" stroke-dasharray="1,1.4"/>
<line x1="43.5" y1="300.9" x2="266" y2="300.9" stroke="#d4d4d4" stroke-width="0.7" stroke-dasharray="1,1.4"/>
<line x1="43.5" y1="316.8" x2="266" y2="316.8" stroke="#d4d4d4" stroke-width="0.7" stroke-dasharray="1,1.4"/>
<line x1="43.5" y1="332.7" x2="266" y2="332.7" stroke="#d4d4d4" stroke-width="0.7" stroke-dasharray="1,1.4"/>
<line x1="43.5" y1="348.6" x2="266" y2="348.6" stroke="#d4d4d4" stroke-width="0.7" stroke-dasharray="1,1.4"/>
<line x1="43.5" y1="364.5" x2="266" y2="364.5" stroke="#d4d4d4" stroke-width="0.7" stroke-dasharray="1,1.4"/>
<line x1="43.5" y1="380.4" x2="266" y2="380.4" stroke="#d4d4d4" stroke-width="0.7" stroke-dasharray="1,1.4"/>
<line x1="43.5" y1="396.3" x2="266" y2="396.3" stroke="#d4d4d4" stroke-width="0.7" stroke-dasharray="1,1.4"/>
<line x1="43.5" y1="412.2" x2="266" y2="412.2" stroke="#d4d4d4" stroke-width="0.7" stroke-dasharray="1,1.4"/>
<line x1="43.5" y1="428.1" x2="266" y2="428.1" stroke="#d4d4d4" stroke-width="0.7" stroke-dasharray="1,1.4"/>
<line x1="50.25" y1="444" x2="50.25" y2="439.2" stroke="#000" stroke-width="1.3"/>
<text x="50.25" y="458.5" font-size="12.3" text-anchor="middle" fill="#000" font-family="Liberation Sans, sans-serif" font-weight="bold" stroke-width="0.25" paint-order="fill"  stroke="#000">-1.5</text>
<line x1="67.62" y1="444" x2="67.62" y2="440.6" stroke="#000" stroke-width="1.3"/>
<line x1="85" y1="444" x2="85" y2="439.2" stroke="#000" stroke-width="1.3"/>
<text x="85" y="458.5" font-size="12.3" text-anchor="middle" fill="#000" font-family="Liberation Sans, sans-serif" font-weight="bold" stroke-width="0.25" paint-order="fill"  stroke="#000">-1.0</text>
<line x1="102.38" y1="444" x2="102.38" y2="440.6" stroke="#000" stroke-width="1.3"/>
<line x1="119.75" y1="444" x2="119.75" y2="439.2" stroke="#000" stroke-width="1.3"/>
<text x="119.75" y="458.5" font-size="12.3" text-anchor="middle" fill="#000" font-family="Liberation Sans, sans-serif" font-weight="bold" stroke-width="0.25" paint-order="fill"  stroke="#000">-0.5</text>
<line x1="137.12" y1="444" x2="137.12" y2="440.6" stroke="#000" stroke-width="1.3"/>
<line x1="154.5" y1="444" x2="154.5" y2="439.2" stroke="#000" stroke-width="1.3"/>
<text x="154.5" y="458.5" font-size="12.3" text-anchor="middle" fill="#000" font-family="Liberation Sans, sans-serif" font-weight="bold" stroke-width="0.25" paint-order="fill"  stroke="#000">0.0</text>
<line x1="171.88" y1="444" x2="171.88" y2="440.6" stroke="#000" stroke-width="1.3"/>
<line x1="189.25" y1="444" x2="189.25" y2="439.2" stroke="#000" stroke-width="1.3"/>
<text x="189.25" y="458.5" font-size="12.3" text-anchor="middle" fill="#000" font-family="Liberation Sans, sans-serif" font-weight="bold" stroke-width="0.25" paint-order="fill"  stroke="#000">0.5</text>
<line x1="206.62" y1="444" x2="206.62" y2="440.6" stroke="#000" stroke-width="1.3"/>
<line x1="224" y1="444" x2="224" y2="439.2" stroke="#000" stroke-width="1.3"/>
<text x="224" y="458.5" font-size="12.3" text-anchor="middle" fill="#000" font-family="Liberation Sans, sans-serif" font-weight="bold" stroke-width="0.25" paint-order="fill"  stroke="#000">1.0</text>
<line x1="241.38" y1="444" x2="241.38" y2="440.6" stroke="#000" stroke-width="1.3"/>
<line x1="258.75" y1="444" x2="258.75" y2="439.2" stroke="#000" stroke-width="1.3"/>
<text x="258.75" y="458.5" font-size="12.3" text-anchor="middle" fill="#000" font-family="Liberation Sans, sans-serif" font-weight="bold" stroke-width="0.25" paint-order="fill"  stroke="#000">1.5</text>
<line x1="43.5" y1="444" x2="48.3" y2="444" stroke="#000" stroke-width="1.4"/>
<line x1="43.5" y1="439.21" x2="45.9" y2="439.21" stroke="#000" stroke-width="0.8"/>
<line x1="43.5" y1="436.41" x2="45.9" y2="436.41" stroke="#000" stroke-width="0.8"/>
<line x1="43.5" y1="434.43" x2="45.9" y2="434.43" stroke="#000" stroke-width="0.8"/>
<line x1="43.5" y1="432.89" x2="45.9" y2="432.89" stroke="#000" stroke-width="0.8"/>
<line x1="43.5" y1="431.63" x2="45.9" y2="431.63" stroke="#000" stroke-width="0.8"/>
<line x1="43.5" y1="430.56" x2="45.9" y2="430.56" stroke="#000" stroke-width="0.8"/>
<line x1="43.5" y1="429.64" x2="45.9" y2="429.64" stroke="#000" stroke-width="0.8"/>
<line x1="43.5" y1="428.83" x2="45.9" y2="428.83" stroke="#000" stroke-width="0.8"/>
<text x="40.3" y="442.9" font-size="8.6" text-anchor="end" font-family="Liberation Sans, sans-serif" font-weight="bold" stroke-width="0.25" paint-order="fill" stroke="#000">-12</text>
<text x="27.67" y="449.2" font-size="13" text-anchor="end" textLength="12.8" lengthAdjust="spacingAndGlyphs" font-family="Liberation Sans, sans-serif" font-weight="bold" stroke-width="0.25" paint-order="fill" stroke="#000">10</text>
<line x1="43.5" y1="428.1" x2="47.9" y2="428.1" stroke="#000" stroke-width="1.4"/>
<line x1="43.5" y1="423.31" x2="45.9" y2="423.31" stroke="#000" stroke-width="0.8"/>
<line x1="43.5" y1="420.51" x2="45.9" y2="420.51" stroke="#000" stroke-width="0.8"/>
<line x1="43.5" y1="418.53" x2="45.9" y2="418.53" stroke="#000" stroke-width="0.8"/>
<line x1="43.5" y1="416.99" x2="45.9" y2="416.99" stroke="#000" stroke-width="0.8"/>
<line x1="43.5" y1="415.73" x2="45.9" y2="415.73" stroke="#000" stroke-width="0.8"/>
<line x1="43.5" y1="414.66" x2="45.9" y2="414.66" stroke="#000" stroke-width="0.8"/>
<line x1="43.5" y1="413.74" x2="45.9" y2="413.74" stroke="#000" stroke-width="0.8"/>
<line x1="43.5" y1="412.93" x2="45.9" y2="412.93" stroke="#000" stroke-width="0.8"/>
<line x1="43.5" y1="412.2" x2="48.3" y2="412.2" stroke="#000" stroke-width="1.4"/>
<line x1="43.5" y1="407.41" x2="45.9" y2="407.41" stroke="#000" stroke-width="0.8"/>
<line x1="43.5" y1="404.61" x2="45.9" y2="404.61" stroke="#000" stroke-width="0.8"/>
<line x1="43.5" y1="402.63" x2="45.9" y2="402.63" stroke="#000" stroke-width="0.8"/>
<line x1="43.5" y1="401.09" x2="45.9" y2="401.09" stroke="#000" stroke-width="0.8"/>
<line x1="43.5" y1="399.83" x2="45.9" y2="399.83" stroke="#000" stroke-width="0.8"/>
<line x1="43.5" y1="398.76" x2="45.9" y2="398.76" stroke="#000" stroke-width="0.8"/>
<line x1="43.5" y1="397.84" x2="45.9" y2="397.84" stroke="#000" stroke-width="0.8"/>
<line x1="43.5" y1="397.03" x2="45.9" y2="397.03" stroke="#000" stroke-width="0.8"/>
<text x="40.3" y="411.1" font-size="8.6" text-anchor="end" font-family="Liberation Sans, sans-serif" font-weight="bold" stroke-width="0.25" paint-order="fill" stroke="#000">-10</text>
<text x="27.67" y="417.4" font-size="13" text-anchor="end" textLength="12.8" lengthAdjust="spacingAndGlyphs" font-family="Liberation Sans, sans-serif" font-weight="bold" stroke-width="0.25" paint-order="fill" stroke="#000">10</text>
<line x1="43.5" y1="396.3" x2="47.9" y2="396.3" stroke="#000" stroke-width="1.4"/>
<line x1="43.5" y1="391.51" x2="45.9" y2="391.51" stroke="#000" stroke-width="0.8"/>
<line x1="43.5" y1="388.71" x2="45.9" y2="388.71" stroke="#000" stroke-width="0.8"/>
<line x1="43.5" y1="386.73" x2="45.9" y2="386.73" stroke="#000" stroke-width="0.8"/>
<line x1="43.5" y1="385.19" x2="45.9" y2="385.19" stroke="#000" stroke-width="0.8"/>
<line x1="43.5" y1="383.93" x2="45.9" y2="383.93" stroke="#000" stroke-width="0.8"/>
<line x1="43.5" y1="382.86" x2="45.9" y2="382.86" stroke="#000" stroke-width="0.8"/>
<line x1="43.5" y1="381.94" x2="45.9" y2="381.94" stroke="#000" stroke-width="0.8"/>
<line x1="43.5" y1="381.13" x2="45.9" y2="381.13" stroke="#000" stroke-width="0.8"/>
<line x1="43.5" y1="380.4" x2="48.3" y2="380.4" stroke="#000" stroke-width="1.4"/>
<line x1="43.5" y1="375.61" x2="45.9" y2="375.61" stroke="#000" stroke-width="0.8"/>
<line x1="43.5" y1="372.81" x2="45.9" y2="372.81" stroke="#000" stroke-width="0.8"/>
<line x1="43.5" y1="370.83" x2="45.9" y2="370.83" stroke="#000" stroke-width="0.8"/>
<line x1="43.5" y1="369.29" x2="45.9" y2="369.29" stroke="#000" stroke-width="0.8"/>
<line x1="43.5" y1="368.03" x2="45.9" y2="368.03" stroke="#000" stroke-width="0.8"/>
<line x1="43.5" y1="366.96" x2="45.9" y2="366.96" stroke="#000" stroke-width="0.8"/>
<line x1="43.5" y1="366.04" x2="45.9" y2="366.04" stroke="#000" stroke-width="0.8"/>
<line x1="43.5" y1="365.23" x2="45.9" y2="365.23" stroke="#000" stroke-width="0.8"/>
<text x="40.3" y="379.3" font-size="8.6" text-anchor="end" font-family="Liberation Sans, sans-serif" font-weight="bold" stroke-width="0.25" paint-order="fill" stroke="#000">-8</text>
<text x="32.45" y="385.6" font-size="13" text-anchor="end" textLength="12.8" lengthAdjust="spacingAndGlyphs" font-family="Liberation Sans, sans-serif" font-weight="bold" stroke-width="0.25" paint-order="fill" stroke="#000">10</text>
<line x1="43.5" y1="364.5" x2="47.9" y2="364.5" stroke="#000" stroke-width="1.4"/>
<line x1="43.5" y1="359.71" x2="45.9" y2="359.71" stroke="#000" stroke-width="0.8"/>
<line x1="43.5" y1="356.91" x2="45.9" y2="356.91" stroke="#000" stroke-width="0.8"/>
<line x1="43.5" y1="354.93" x2="45.9" y2="354.93" stroke="#000" stroke-width="0.8"/>
<line x1="43.5" y1="353.39" x2="45.9" y2="353.39" stroke="#000" stroke-width="0.8"/>
<line x1="43.5" y1="352.13" x2="45.9" y2="352.13" stroke="#000" stroke-width="0.8"/>
<line x1="43.5" y1="351.06" x2="45.9" y2="351.06" stroke="#000" stroke-width="0.8"/>
<line x1="43.5" y1="350.14" x2="45.9" y2="350.14" stroke="#000" stroke-width="0.8"/>
<line x1="43.5" y1="349.33" x2="45.9" y2="349.33" stroke="#000" stroke-width="0.8"/>
<line x1="43.5" y1="348.6" x2="48.3" y2="348.6" stroke="#000" stroke-width="1.4"/>
<line x1="43.5" y1="343.81" x2="45.9" y2="343.81" stroke="#000" stroke-width="0.8"/>
<line x1="43.5" y1="341.01" x2="45.9" y2="341.01" stroke="#000" stroke-width="0.8"/>
<line x1="43.5" y1="339.03" x2="45.9" y2="339.03" stroke="#000" stroke-width="0.8"/>
<line x1="43.5" y1="337.49" x2="45.9" y2="337.49" stroke="#000" stroke-width="0.8"/>
<line x1="43.5" y1="336.23" x2="45.9" y2="336.23" stroke="#000" stroke-width="0.8"/>
<line x1="43.5" y1="335.16" x2="45.9" y2="335.16" stroke="#000" stroke-width="0.8"/>
<line x1="43.5" y1="334.24" x2="45.9" y2="334.24" stroke="#000" stroke-width="0.8"/>
<line x1="43.5" y1="333.43" x2="45.9" y2="333.43" stroke="#000" stroke-width="0.8"/>
<text x="40.3" y="347.5" font-size="8.6" text-anchor="end" font-family="Liberation Sans, sans-serif" font-weight="bold" stroke-width="0.25" paint-order="fill" stroke="#000">-6</text>
<text x="32.45" y="353.8" font-size="13" text-anchor="end" textLength="12.8" lengthAdjust="spacingAndGlyphs" font-family="Liberation Sans, sans-serif" font-weight="bold" stroke-width="0.25" paint-order="fill" stroke="#000">10</text>
<line x1="43.5" y1="332.7" x2="47.9" y2="332.7" stroke="#000" stroke-width="1.4"/>
<line x1="43.5" y1="327.91" x2="45.9" y2="327.91" stroke="#000" stroke-width="0.8"/>
<line x1="43.5" y1="325.11" x2="45.9" y2="325.11" stroke="#000" stroke-width="0.8"/>
<line x1="43.5" y1="323.13" x2="45.9" y2="323.13" stroke="#000" stroke-width="0.8"/>
<line x1="43.5" y1="321.59" x2="45.9" y2="321.59" stroke="#000" stroke-width="0.8"/>
<line x1="43.5" y1="320.33" x2="45.9" y2="320.33" stroke="#000" stroke-width="0.8"/>
<line x1="43.5" y1="319.26" x2="45.9" y2="319.26" stroke="#000" stroke-width="0.8"/>
<line x1="43.5" y1="318.34" x2="45.9" y2="318.34" stroke="#000" stroke-width="0.8"/>
<line x1="43.5" y1="317.53" x2="45.9" y2="317.53" stroke="#000" stroke-width="0.8"/>
<line x1="43.5" y1="316.8" x2="48.3" y2="316.8" stroke="#000" stroke-width="1.4"/>
<line x1="43.5" y1="312.01" x2="45.9" y2="312.01" stroke="#000" stroke-width="0.8"/>
<line x1="43.5" y1="309.21" x2="45.9" y2="309.21" stroke="#000" stroke-width="0.8"/>
<line x1="43.5" y1="307.23" x2="45.9" y2="307.23" stroke="#000" stroke-width="0.8"/>
<line x1="43.5" y1="305.69" x2="45.9" y2="305.69" stroke="#000" stroke-width="0.8"/>
<line x1="43.5" y1="304.43" x2="45.9" y2="304.43" stroke="#000" stroke-width="0.8"/>
<line x1="43.5" y1="303.36" x2="45.9" y2="303.36" stroke="#000" stroke-width="0.8"/>
<line x1="43.5" y1="302.44" x2="45.9" y2="302.44" stroke="#000" stroke-width="0.8"/>
<line x1="43.5" y1="301.63" x2="45.9" y2="301.63" stroke="#000" stroke-width="0.8"/>
<text x="40.3" y="315.7" font-size="8.6" text-anchor="end" font-family="Liberation Sans, sans-serif" font-weight="bold" stroke-width="0.25" paint-order="fill" stroke="#000">-4</text>
<text x="32.45" y="322" font-size="13" text-anchor="end" textLength="12.8" lengthAdjust="spacingAndGlyphs" font-family="Liberation Sans, sans-serif" font-weight="bold" stroke-width="0.25" paint-order="fill" stroke="#000">10</text>
<line x1="43.5" y1="300.9" x2="47.9" y2="300.9" stroke="#000" stroke-width="1.4"/>
<line x1="43.5" y1="296.11" x2="45.9" y2="296.11" stroke="#000" stroke-width="0.8"/>
<line x1="43.5" y1="293.31" x2="45.9" y2="293.31" stroke="#000" stroke-width="0.8"/>
<line x1="43.5" y1="291.33" x2="45.9" y2="291.33" stroke="#000" stroke-width="0.8"/>
<line x1="43.5" y1="289.79" x2="45.9" y2="289.79" stroke="#000" stroke-width="0.8"/>
<line x1="43.5" y1="288.53" x2="45.9" y2="288.53" stroke="#000" stroke-width="0.8"/>
<line x1="43.5" y1="287.46" x2="45.9" y2="287.46" stroke="#000" stroke-width="0.8"/>
<line x1="43.5" y1="286.54" x2="45.9" y2="286.54" stroke="#000" stroke-width="0.8"/>
<line x1="43.5" y1="285.73" x2="45.9" y2="285.73" stroke="#000" stroke-width="0.8"/>
<line x1="43.5" y1="285" x2="48.3" y2="285" stroke="#000" stroke-width="1.4"/>
<text x="40.3" y="283.9" font-size="8.6" text-anchor="end" font-family="Liberation Sans, sans-serif" font-weight="bold" stroke-width="0.25" paint-order="fill" stroke="#000">-2</text>
<text x="32.45" y="290.2" font-size="13" text-anchor="end" textLength="12.8" lengthAdjust="spacingAndGlyphs" font-family="Liberation Sans, sans-serif" font-weight="bold" stroke-width="0.25" paint-order="fill" stroke="#000">10</text>
<polygon points="44.5,357.5 60.0,361.5 80.0,366.0 100.0,370.5 120.0,375.5 133.0,379.5 140.0,384.0 146.0,392.0 150.0,404.0 153.0,420.0 153.0,425.5 150.0,410.5 146.0,399.5 140.0,391.5 133.0,387.0 120.0,383.0 100.0,378.0 80.0,373.3 60.0,368.5 44.5,364.5" fill="#8a8a8a" stroke="#8a8a8a" stroke-width="0.8"/>
<polyline points="44.39,357.65 60.09,361.57 80.02,366.67 99.73,371.51 119.72,376.43 132.74,380.09 139.95,385.33" fill="none" stroke="#808080" stroke-width="1.0" stroke-linejoin="round" stroke-linecap="butt" />
<polyline points="44.27,356.42 60.08,361.15 80.05,365.4 100.29,369.75 120.22,374.99 132.79,378.82 139.89,384.02" fill="none" stroke="#808080" stroke-width="1.0" stroke-linejoin="round" stroke-linecap="butt" />
<polyline points="44.31,355.48 60.08,359.27 80.03,363.76 99.74,368.61 120.11,373.83 132.89,377.99 139.97,382.2" fill="none" stroke="#808080" stroke-width="1.0" stroke-linejoin="round" stroke-linecap="butt" />
<polyline points="45,354 52,353.5 58,354 62,354.5 64,350.5 65.5,355 75,356.5 90,358.5 96,360 99,356 102,353 104,357 106,361 120,367" fill="none" stroke="#808080" stroke-width="1.0" stroke-linejoin="round" stroke-linecap="butt" />
<polyline points="45,356 52,355 56,357 70,358.5 88,361.5 100,364.5 110,367 125,371" fill="none" stroke="#808080" stroke-width="1.0" stroke-linejoin="round" stroke-linecap="butt" />
<polyline points="98.1,357.2 100.2,356.1 102.3,359.3 104.4,353 107.6,345.6 109.7,344.6 111.8,340.4 113.9,334.1 116,330.9 118.1,328.8 120.2,324.6 122.3,323.6 124.4,327.8 126.5,325.7 128.6,327.8 131.7,320.4 133.8,306.8 135.9,305.7 138,309.9 140.1,306.8 143.3,303.6 144.5,299.8 146.4,300.5 149.6,304.7 152.1,311 153.8,319.4 154.8,332 154.9,380" fill="none" stroke="#808080" stroke-width="1.1" stroke-linejoin="round" stroke-linecap="butt" />
<polyline points="99.4,370.36 100.2,361.37 102.3,365.36 104.4,358.94 107.6,352.38 109.7,351.03 111.8,345.77 113.9,341.14 116,335.87 118.1,334.49 120.2,331.1 122.3,328.65 124.4,333.66 126.5,330.48 128.6,334.09 131.7,326.92 133.8,312.86 135.9,312.48 138,315.34 140.1,313.15 143.3,309.71 144.5,305.87 146.4,306.02 149.6,309.05 152.1,313.96 153.8,320.12 154.8,332.52 154.6,380" fill="none" stroke="#808080" stroke-width="1.05" stroke-linejoin="round" stroke-linecap="butt" />
<polyline points="102.89,371.22 104.4,363.99 107.6,356.18 109.7,353.89 111.8,349.93 113.9,344.31 116,339.56 118.1,338.51 120.2,333.61 122.3,332.49 124.4,336.55 126.5,336.15 128.6,336.71 131.7,329.6 133.8,316.34 135.9,316.4 138,318.7 140.1,316.48 143.3,313.52 144.5,310.52 146.4,310.63 149.6,311.46 152.1,313.63 153.8,320.5 154.8,331.88 154.6,380" fill="none" stroke="#808080" stroke-width="1.05" stroke-linejoin="round" stroke-linecap="butt" />
<polyline points="105.5,371.88 107.6,359.6 109.7,358.73 111.8,354.53 113.9,348.84 116,345.89 118.1,343 120.2,338.18 122.3,338.18 124.4,342.26 126.5,340.63 128.6,343.66 131.7,335.63 133.8,321.61 135.9,320.76 138,325.1 140.1,320.5 143.3,319.33 144.5,315.25 146.4,315.52 149.6,314.28 152.1,315.5 153.8,321.13 154.8,331.38 154.6,380" fill="none" stroke="#808080" stroke-width="1.05" stroke-linejoin="round" stroke-linecap="butt" />
<polyline points="108.93,372.73 109.7,360.19 111.8,355.88 113.9,350 116,346.11 118.1,343.89 120.2,340.05 122.3,338.93 124.4,343.76 126.5,340.85 128.6,344.99 131.7,336.96 133.8,322.24 135.9,321.39 138,325.82 140.1,322.76 143.3,318.98 144.5,316.92 146.4,317.25 149.6,314.39 152.1,316.21 153.8,320.58 154.8,331.41 154.6,380" fill="none" stroke="#808080" stroke-width="1.05" stroke-linejoin="round" stroke-linecap="butt" />
<polyline points="114.06,374.01 116,351.18 118.1,348.75 120.2,346.78 122.3,344.76 124.4,348.05 126.5,346.9 128.6,347.76 131.7,341.56 133.8,329.04 135.9,327.67 138,331.47 140.1,327.32 143.3,324.37 144.5,320.1 146.4,321.31 149.6,317.43 152.1,318.47 153.8,321.8 154.8,331.8 154.6,380" fill="none" stroke="#808080" stroke-width="1.05" stroke-linejoin="round" stroke-linecap="butt" />
<polyline points="117.71,374.93 118.1,356.99 120.2,352.82 122.3,351.63 124.4,354.6 126.5,353.2 128.6,354.91 131.7,346.72 133.8,333.12 135.9,332.63 138,336.78 140.1,334.72 143.3,332.15 144.5,327.13 146.4,327.78 149.6,322.34 152.1,320.94 153.8,322.74 154.8,331.94 154.6,380" fill="none" stroke="#808080" stroke-width="1.05" stroke-linejoin="round" stroke-linecap="butt" />
<polyline points="120.01,375.5 120.2,354.19 122.3,353.85 124.4,357.91 126.5,354.94 128.6,357.46 131.7,350.41 133.8,335.09 135.9,335.38 138,340.17 140.1,336.77 143.3,333.49 144.5,329.04 146.4,327.72 149.6,322.97 152.1,320.04 153.8,324.03 154.8,333.78 154.6,380" fill="none" stroke="#808080" stroke-width="1.05" stroke-linejoin="round" stroke-linecap="butt" />
<polyline points="125.09,377.07 126.5,360.34 128.6,361.11 131.7,353.61 133.8,340.07 135.9,340.78 138,344.74 140.1,340.05 143.3,338.49 144.5,335.06 146.4,333.47 149.6,324.8 152.1,322.11 153.8,323.06 154.8,331.59 154.6,380" fill="none" stroke="#808080" stroke-width="1.05" stroke-linejoin="round" stroke-linecap="butt" />
<polyline points="127.85,377.92 128.6,367.89 131.7,359.29 133.8,346.74 135.9,345.53 138,348.26 140.1,345.25 143.3,342.15 144.5,338.23 146.4,338.02 149.6,327.55 152.1,323.39 153.8,323.72 154.8,333.85 154.6,380" fill="none" stroke="#808080" stroke-width="1.05" stroke-linejoin="round" stroke-linecap="butt" />
<polyline points="131.57,379.06 131.7,364.04 133.8,349.28 135.9,349.38 138,352.58 140.1,349.55 143.3,346.33 144.5,341.32 146.4,341.13 149.6,329.54 152.1,323.56 153.8,325.81 154.8,332.16 154.6,380" fill="none" stroke="#808080" stroke-width="1.05" stroke-linejoin="round" stroke-linecap="butt" />
<polyline points="135.11,380.86 135.9,352.96 138,357.62 140.1,354.61 143.3,351.96 144.5,346.53 146.4,346.2 149.6,332.7 152.1,325.83 153.8,326.41 154.8,333.08 154.6,380" fill="none" stroke="#808080" stroke-width="1.05" stroke-linejoin="round" stroke-linecap="butt" />
<polyline points="105,371.75 105.5,352" fill="none" stroke="#808080" stroke-width="1.0" stroke-linejoin="round" stroke-linecap="butt" />
<polyline points="110,373 110.5,346" fill="none" stroke="#808080" stroke-width="1.0" stroke-linejoin="round" stroke-linecap="butt" />
<polyline points="117,374.75 117.5,338" fill="none" stroke="#808080" stroke-width="1.0" stroke-linejoin="round" stroke-linecap="butt" />
<polyline points="123,376.42 123.5,333" fill="none" stroke="#808080" stroke-width="1.0" stroke-linejoin="round" stroke-linecap="butt" />
<polyline points="128,377.96 128.5,332" fill="none" stroke="#808080" stroke-width="1.0" stroke-linejoin="round" stroke-linecap="butt" />
<polyline points="131,378.88 131.5,325" fill="none" stroke="#808080" stroke-width="1.0" stroke-linejoin="round" stroke-linecap="butt" />
<polyline points="136,381.43 136.5,318" fill="none" stroke="#808080" stroke-width="1.0" stroke-linejoin="round" stroke-linecap="butt" />
<polyline points="125,385.2 135,389.2 142,394.2 147,400.2 151,407.2 153.5,419.2 154.6,444" fill="none" stroke="#808080" stroke-width="1.1" stroke-linejoin="round" stroke-linecap="butt" />
<polyline points="154.9,444 156.4,419.2 158.5,407.2 161.5,399.2 166,394.2 173,390.2 182,385.2 195,381.2" fill="none" stroke="#808080" stroke-width="1.1" stroke-linejoin="round" stroke-linecap="butt" />
<polyline points="125,386.3 135,390.3 142,395.3 147,401.3 151,408.3 153.5,420.3 154.6,444" fill="none" stroke="#808080" stroke-width="1.1" stroke-linejoin="round" stroke-linecap="butt" />
<polyline points="154.9,444 156.4,420.3 158.5,408.3 161.5,400.3 166,395.3 173,391.3 182,386.3 195,382.3" fill="none" stroke="#808080" stroke-width="1.1" stroke-linejoin="round" stroke-linecap="butt" />
<polyline points="125,387.4 135,391.4 142,396.4 147,402.4 151,409.4 153.5,421.4 154.6,444" fill="none" stroke="#808080" stroke-width="1.1" stroke-linejoin="round" stroke-linecap="butt" />
<polyline points="154.9,444 156.4,421.4 158.5,409.4 161.5,401.4 166,396.4 173,392.4 182,387.4 195,383.4" fill="none" stroke="#808080" stroke-width="1.1" stroke-linejoin="round" stroke-linecap="butt" />
<polyline points="154.8,370 156,345 158,328 161,320 166,317.2 175,317.2" fill="none" stroke="#808080" stroke-width="1.0" stroke-linejoin="round" stroke-linecap="butt" />
<polyline points="154.8,367 156,343 158,327 161,320 166,317.2 175,317.2" fill="none" stroke="#808080" stroke-width="1.0" stroke-linejoin="round" stroke-linecap="butt" />
<polyline points="154.8,364 156,341 158,326 161,320 166,317.2 175,317.2" fill="none" stroke="#808080" stroke-width="1.0" stroke-linejoin="round" stroke-linecap="butt" />
<polyline points="154.8,361 156,339 158,325 161,320 166,317.2 175,317.2" fill="none" stroke="#808080" stroke-width="1.0" stroke-linejoin="round" stroke-linecap="butt" />
<polyline points="154.8,358 156,337 158,324 161,320 166,317.2 175,317.2" fill="none" stroke="#808080" stroke-width="1.0" stroke-linejoin="round" stroke-linecap="butt" />
<polyline points="154.8,355 156,335 158,323 161,320 166,317.2 175,317.2" fill="none" stroke="#808080" stroke-width="1.0" stroke-linejoin="round" stroke-linecap="butt" />
<polyline points="154.8,444 156,430 160,400 166,390 175,384 183,379.5 237,370.5" fill="none" stroke="#808080" stroke-width="1.0" stroke-linejoin="round" stroke-linecap="butt" />
<polyline points="154.8,444 156,431.2 160,401.2 166,391.2 175,385.2 183,380.7 237,371.7" fill="none" stroke="#808080" stroke-width="1.0" stroke-linejoin="round" stroke-linecap="butt" />
<polyline points="154.8,444 156,432.4 160,402.4 166,392.4 175,386.4 183,381.9 237,372.9" fill="none" stroke="#808080" stroke-width="1.0" stroke-linejoin="round" stroke-linecap="butt" />
<polyline points="154.8,444 156,433.6 160,403.6 166,393.6 175,387.6 183,383.1 237,374.1" fill="none" stroke="#808080" stroke-width="1.0" stroke-linejoin="round" stroke-linecap="butt" />
<polyline points="154.8,444 156,434.8 160,404.8 166,394.8 175,388.8 183,384.3 237,375.3" fill="none" stroke="#808080" stroke-width="1.0" stroke-linejoin="round" stroke-linecap="butt" />
<polyline points="154.8,444 156,436 160,406 166,396 175,390 183,385.5 237,376.5" fill="none" stroke="#808080" stroke-width="1.0" stroke-linejoin="round" stroke-linecap="butt" />
<polyline points="183.1,317.2 182.5,381.76" fill="none" stroke="#777" stroke-width="1.0" stroke-linejoin="round" stroke-linecap="butt" />
<polyline points="184,317.2 183.4,382.07" fill="none" stroke="#777" stroke-width="1.0" stroke-linejoin="round" stroke-linecap="butt" />
<polyline points="188.8,317.2 188.2,379.86" fill="none" stroke="#777" stroke-width="1.0" stroke-linejoin="round" stroke-linecap="butt" />
<polyline points="189.7,317.2 189.1,380.22" fill="none" stroke="#777" stroke-width="1.0" stroke-linejoin="round" stroke-linecap="butt" />
<polyline points="190.7,317.2 190.1,379.73" fill="none" stroke="#777" stroke-width="1.0" stroke-linejoin="round" stroke-linecap="butt" />
<polyline points="192.5,317.2 191.9,379.45" fill="none" stroke="#777" stroke-width="1.0" stroke-linejoin="round" stroke-linecap="butt" />
<polyline points="196.3,317.2 195.7,379.36" fill="none" stroke="#777" stroke-width="1.0" stroke-linejoin="round" stroke-linecap="butt" />
<polyline points="198.2,317.2 197.6,378.32" fill="none" stroke="#777" stroke-width="1.0" stroke-linejoin="round" stroke-linecap="butt" />
<polyline points="200.1,317.2 199.5,378.25" fill="none" stroke="#777" stroke-width="1.0" stroke-linejoin="round" stroke-linecap="butt" />
<polyline points="202,317.2 201.4,377.77" fill="none" stroke="#777" stroke-width="1.0" stroke-linejoin="round" stroke-linecap="butt" />
<polyline points="206.7,317.2 206.1,378.37" fill="none" stroke="#777" stroke-width="1.0" stroke-linejoin="round" stroke-linecap="butt" />
<polyline points="208.6,317.2 208,377.33" fill="none" stroke="#777" stroke-width="1.0" stroke-linejoin="round" stroke-linecap="butt" />
<polyline points="210.5,317.2 209.9,377.55" fill="none" stroke="#777" stroke-width="1.0" stroke-linejoin="round" stroke-linecap="butt" />
<polyline points="212.4,317.2 211.8,377.43" fill="none" stroke="#777" stroke-width="1.0" stroke-linejoin="round" stroke-linecap="butt" />
<polyline points="215.2,317.2 214.6,374.91" fill="none" stroke="#777" stroke-width="1.0" stroke-linejoin="round" stroke-linecap="butt" />
<polyline points="217.1,317.2 216.5,375.5" fill="none" stroke="#777" stroke-width="1.0" stroke-linejoin="round" stroke-linecap="butt" />
<polyline points="219,317.2 218.4,376.33" fill="none" stroke="#777" stroke-width="1.0" stroke-linejoin="round" stroke-linecap="butt" />
<polyline points="222.8,317.2 222.2,375.39" fill="none" stroke="#777" stroke-width="1.0" stroke-linejoin="round" stroke-linecap="butt" />
<polyline points="225.6,317.2 225,372.81" fill="none" stroke="#777" stroke-width="1.0" stroke-linejoin="round" stroke-linecap="butt" />
<polyline points="227.5,317.2 226.9,372.45" fill="none" stroke="#777" stroke-width="1.0" stroke-linejoin="round" stroke-linecap="butt" />
<polyline points="44.5,364 60,368 80,372.8 100,377.5 120,382.5 133,386.5 140,391 146,399 150,410 153,425 154.6,443" fill="none" stroke="#000000" stroke-width="2.4" stroke-linejoin="round" stroke-linecap="butt" />
<polyline points="44.5,362.5 60,366 80,370.3 100,374.5 120,378.5 127.2,379.8 130,380.4" fill="none" stroke="#0000ff" stroke-width="2.8" stroke-linejoin="round" stroke-linecap="butt" />
<polyline points="116,378.5 119.6,378.6 123.4,377.7 127.2,379.6 130,370 132.8,353 134.7,343.5 136.6,347.3 138.5,362.4 140.4,353 142.3,333 144.2,326 146.3,323.5 148.9,326.5 151.8,338 154,360.5 154.6,380 154.7,385" fill="none" stroke="#000000" stroke-width="2.6" stroke-linejoin="round" stroke-linecap="butt" />
<polyline points="154.8,362 155.5,338 157,326 159.5,320 163,317.2 170,317.2" fill="none" stroke="#000000" stroke-width="2.6" stroke-linejoin="round" stroke-linecap="butt" />
<polyline points="127.2,379.5 130,380.4 131.9,373.8 134.7,362.4 137.6,354.9 140.4,341.6 142.3,320.8 143.8,314.2 146.1,315.1 149.9,321.8 152.7,332.2 154.6,356.8 154.8,375" fill="none" stroke="#0000ff" stroke-width="2.8" stroke-linejoin="round" stroke-linecap="butt" />
<polyline points="155,360 155.6,335 157,324 159.5,319 163,317.2 175,317.2" fill="none" stroke="#0000ff" stroke-width="2.8" stroke-linejoin="round" stroke-linecap="butt" />
<polyline points="44.5,364 60,368 80,372.8 100,377.5 120,382.5 133,386.5 140,391 146,399 146,397" fill="none" stroke="#ff0000" stroke-width="3.0" stroke-linejoin="round" stroke-linecap="butt" />
<polyline points="46,364.5 133,386.8" fill="none" stroke="#ff0000" stroke-width="3.2" stroke-linejoin="round" stroke-linecap="butt" />
<polyline points="132.8,384.2 132.8,362.4 135.7,361.5 138.1,365.3 140.4,354.9 142.3,330.3 144.6,320.8 147,322.7 149.9,328.4 152.7,341.6 154.6,362.4 154.8,376" fill="none" stroke="#ff0000" stroke-width="3.0" stroke-linejoin="round" stroke-linecap="butt" />
<polyline points="133,386.5 140,391 146,399 150,410 153,425 154.6,434" fill="none" stroke="#ff0000" stroke-width="3.0" stroke-linejoin="round" stroke-linecap="butt" />
<polyline points="154.7,376 154.7,382" fill="none" stroke="#000000" stroke-width="2.6" stroke-linejoin="round" stroke-linecap="butt" />
<polyline points="154.9,380 155.3,350 156.3,332 158,322.5 161,318.5 165,317.2 266,317.2" fill="none" stroke="#ff0000" stroke-width="3.0" stroke-linejoin="round" stroke-linecap="butt" />
<polyline points="154.8,444 156.5,420 159.5,400 163.2,394.1 168.9,389.4 178.4,385.6 187.8,382.8 197.3,380 204.4,378.1 238,370.5 238,317.2" fill="none" stroke="#000000" stroke-width="2.6" stroke-linejoin="round" stroke-linecap="butt" />
<polyline points="155,440 157,418 159.5,402 163.2,394.6 168.9,389.9 178.4,386 187.8,383 197.3,380.3 204.4,378.3 204.4,317.2" fill="none" stroke="#0000ff" stroke-width="2.8" stroke-linejoin="round" stroke-linecap="butt" />
<polyline points="155.1,438 156.2,418 157.8,406 160.3,397 164,392 170,388.5 175,386 179,383.5 182.1,381 185,378.1 187.8,378.5 190.6,376.8 194.5,377.4 194.5,317.2" fill="none" stroke="#ff0000" stroke-width="2.7" stroke-linejoin="round" stroke-linecap="butt" />
<rect x="43.5" y="285" width="222.5" height="159" fill="none" stroke="#000" stroke-width="2.2"/>
<text x="153.1" y="261" font-size="20" text-anchor="middle" fill="#000" font-family="Liberation Sans, sans-serif" font-weight="bold" stroke-width="0.25" paint-order="fill"  stroke="#000">(c)</text>
<text x="154" y="277.6" font-size="12.2" text-anchor="middle" font-family="Liberation Sans, sans-serif" font-weight="bold" stroke-width="0.25" paint-order="fill" stroke="#000">Cu<tspan font-size="8" dy="3">0.27</tspan><tspan dy="-3">Sn</tspan><tspan font-size="8" dy="3">0.73</tspan><tspan dy="-3" fill="#ff0000" stroke="#ff0000">/Dy(2.5nm)/</tspan><tspan>Al</tspan><tspan font-size="8" dy="3">2</tspan><tspan dy="-3">O</tspan><tspan font-size="8" dy="3">3</tspan><tspan dy="-3">(3nm)/Pt</tspan></text>
<text x="154.5" y="472" font-size="13.0" text-anchor="middle" fill="#000" font-family="Liberation Sans, sans-serif" font-weight="bold" stroke-width="0.25" paint-order="fill"  stroke="#000">Applied Bias Voltage (V)</text>
<text x="10.5" y="364.8" font-size="13.1" text-anchor="middle" font-family="Liberation Sans, sans-serif" font-weight="bold" stroke-width="0.25" paint-order="fill" transform="rotate(-90 10.5 364.8)" stroke="#000"><tspan font-style="italic">Abs Current</tspan> (A)</text>
<rect x="164.4" y="400.7" width="93.8" height="39.3" fill="#fff" stroke="#c8c8c8" stroke-width="0.8"/>
<line x1="174.8" y1="408.4" x2="194.9" y2="408.4" stroke="#000" stroke-width="2.2"/>
<text x="197.5" y="412.1" font-size="10.2" text-anchor="start" fill="#000" font-family="Liberation Sans, sans-serif" font-weight="bold" stroke-width="0.25" paint-order="fill"  stroke="#000">1st Sweep</text>
<line x1="174.8" y1="421.45" x2="194.9" y2="421.45" stroke="#0000ff" stroke-width="2.2"/>
<text x="197.5" y="425.15" font-size="10.2" text-anchor="start" fill="#0000ff" font-family="Liberation Sans, sans-serif" font-weight="bold" stroke-width="0.25" paint-order="fill"  stroke="#0000ff">25th Sweep</text>
<line x1="174.8" y1="434.5" x2="194.9" y2="434.5" stroke="#ff0000" stroke-width="2.2"/>
<text x="197.5" y="438.2" font-size="10.2" text-anchor="start" fill="#ff0000" font-family="Liberation Sans, sans-serif" font-weight="bold" stroke-width="0.25" paint-order="fill"  stroke="#ff0000">50th Sweep</text>
<line x1="333.55" y1="285.5" x2="333.55" y2="444" stroke="#d4d4d4" stroke-width="0.7" stroke-dasharray="1,1.4"/>
<line x1="368.2" y1="285.5" x2="368.2" y2="444" stroke="#d4d4d4" stroke-width="0.7" stroke-dasharray="1,1.4"/>
<line x1="402.85" y1="285.5" x2="402.85" y2="444" stroke="#d4d4d4" stroke-width="0.7" stroke-dasharray="1,1.4"/>
<line x1="437.5" y1="285.5" x2="437.5" y2="444" stroke="#d4d4d4" stroke-width="0.7" stroke-dasharray="1,1.4"/>
<line x1="472.15" y1="285.5" x2="472.15" y2="444" stroke="#d4d4d4" stroke-width="0.7" stroke-dasharray="1,1.4"/>
<line x1="506.8" y1="285.5" x2="506.8" y2="444" stroke="#d4d4d4" stroke-width="0.7" stroke-dasharray="1,1.4"/>
<line x1="541.45" y1="285.5" x2="541.45" y2="444" stroke="#d4d4d4" stroke-width="0.7" stroke-dasharray="1,1.4"/>
<line x1="326.5" y1="301.35" x2="547.8" y2="301.35" stroke="#d4d4d4" stroke-width="0.7" stroke-dasharray="1,1.4"/>
<line x1="326.5" y1="317.2" x2="547.8" y2="317.2" stroke="#d4d4d4" stroke-width="0.7" stroke-dasharray="1,1.4"/>
<line x1="326.5" y1="333.05" x2="547.8" y2="333.05" stroke="#d4d4d4" stroke-width="0.7" stroke-dasharray="1,1.4"/>
<line x1="326.5" y1="348.9" x2="547.8" y2="348.9" stroke="#d4d4d4" stroke-width="0.7" stroke-dasharray="1,1.4"/>
<line x1="326.5" y1="364.75" x2="547.8" y2="364.75" stroke="#d4d4d4" stroke-width="0.7" stroke-dasharray="1,1.4"/>
<line x1="326.5" y1="380.6" x2="547.8" y2="380.6" stroke="#d4d4d4" stroke-width="0.7" stroke-dasharray="1,1.4"/>
<line x1="326.5" y1="396.45" x2="547.8" y2="396.45" stroke="#d4d4d4" stroke-width="0.7" stroke-dasharray="1,1.4"/>
<line x1="326.5" y1="412.3" x2="547.8" y2="412.3" stroke="#d4d4d4" stroke-width="0.7" stroke-dasharray="1,1.4"/>
<line x1="326.5" y1="428.15" x2="547.8" y2="428.15" stroke="#d4d4d4" stroke-width="0.7" stroke-dasharray="1,1.4"/>
<line x1="333.55" y1="444" x2="333.55" y2="439.2" stroke="#000" stroke-width="1.3"/>
<text x="333.55" y="458.5" font-size="12.3" text-anchor="middle" fill="#000" font-family="Liberation Sans, sans-serif" font-weight="bold" stroke-width="0.25" paint-order="fill"  stroke="#000">-1.5</text>
<line x1="350.88" y1="444" x2="350.88" y2="440.6" stroke="#000" stroke-width="1.3"/>
<line x1="368.2" y1="444" x2="368.2" y2="439.2" stroke="#000" stroke-width="1.3"/>
<text x="368.2" y="458.5" font-size="12.3" text-anchor="middle" fill="#000" font-family="Liberation Sans, sans-serif" font-weight="bold" stroke-width="0.25" paint-order="fill"  stroke="#000">-1.0</text>
<line x1="385.52" y1="444" x2="385.52" y2="440.6" stroke="#000" stroke-width="1.3"/>
<line x1="402.85" y1="444" x2="402.85" y2="439.2" stroke="#000" stroke-width="1.3"/>
<text x="402.85" y="458.5" font-size="12.3" text-anchor="middle" fill="#000" font-family="Liberation Sans, sans-serif" font-weight="bold" stroke-width="0.25" paint-order="fill"  stroke="#000">-0.5</text>
<line x1="420.18" y1="444" x2="420.18" y2="440.6" stroke="#000" stroke-width="1.3"/>
<line x1="437.5" y1="444" x2="437.5" y2="439.2" stroke="#000" stroke-width="1.3"/>
<text x="437.5" y="458.5" font-size="12.3" text-anchor="middle" fill="#000" font-family="Liberation Sans, sans-serif" font-weight="bold" stroke-width="0.25" paint-order="fill"  stroke="#000">0.0</text>
<line x1="454.82" y1="444" x2="454.82" y2="440.6" stroke="#000" stroke-width="1.3"/>
<line x1="472.15" y1="444" x2="472.15" y2="439.2" stroke="#000" stroke-width="1.3"/>
<text x="472.15" y="458.5" font-size="12.3" text-anchor="middle" fill="#000" font-family="Liberation Sans, sans-serif" font-weight="bold" stroke-width="0.25" paint-order="fill"  stroke="#000">0.5</text>
<line x1="489.48" y1="444" x2="489.48" y2="440.6" stroke="#000" stroke-width="1.3"/>
<line x1="506.8" y1="444" x2="506.8" y2="439.2" stroke="#000" stroke-width="1.3"/>
<text x="506.8" y="458.5" font-size="12.3" text-anchor="middle" fill="#000" font-family="Liberation Sans, sans-serif" font-weight="bold" stroke-width="0.25" paint-order="fill"  stroke="#000">1.0</text>
<line x1="524.12" y1="444" x2="524.12" y2="440.6" stroke="#000" stroke-width="1.3"/>
<line x1="541.45" y1="444" x2="541.45" y2="439.2" stroke="#000" stroke-width="1.3"/>
<text x="541.45" y="458.5" font-size="12.3" text-anchor="middle" fill="#000" font-family="Liberation Sans, sans-serif" font-weight="bold" stroke-width="0.25" paint-order="fill"  stroke="#000">1.5</text>
<line x1="326.5" y1="444" x2="331.3" y2="444" stroke="#000" stroke-width="1.4"/>
<line x1="326.5" y1="439.23" x2="328.9" y2="439.23" stroke="#000" stroke-width="0.8"/>
<line x1="326.5" y1="436.44" x2="328.9" y2="436.44" stroke="#000" stroke-width="0.8"/>
<line x1="326.5" y1="434.46" x2="328.9" y2="434.46" stroke="#000" stroke-width="0.8"/>
<line x1="326.5" y1="432.92" x2="328.9" y2="432.92" stroke="#000" stroke-width="0.8"/>
<line x1="326.5" y1="431.67" x2="328.9" y2="431.67" stroke="#000" stroke-width="0.8"/>
<line x1="326.5" y1="430.61" x2="328.9" y2="430.61" stroke="#000" stroke-width="0.8"/>
<line x1="326.5" y1="429.69" x2="328.9" y2="429.69" stroke="#000" stroke-width="0.8"/>
<line x1="326.5" y1="428.88" x2="328.9" y2="428.88" stroke="#000" stroke-width="0.8"/>
<text x="323.3" y="442.9" font-size="8.6" text-anchor="end" font-family="Liberation Sans, sans-serif" font-weight="bold" stroke-width="0.25" paint-order="fill" stroke="#000">-12</text>
<text x="310.67" y="449.2" font-size="13" text-anchor="end" textLength="12.8" lengthAdjust="spacingAndGlyphs" font-family="Liberation Sans, sans-serif" font-weight="bold" stroke-width="0.25" paint-order="fill" stroke="#000">10</text>
<line x1="326.5" y1="428.15" x2="330.9" y2="428.15" stroke="#000" stroke-width="1.4"/>
<line x1="326.5" y1="423.38" x2="328.9" y2="423.38" stroke="#000" stroke-width="0.8"/>
<line x1="326.5" y1="420.59" x2="328.9" y2="420.59" stroke="#000" stroke-width="0.8"/>
<line x1="326.5" y1="418.61" x2="328.9" y2="418.61" stroke="#000" stroke-width="0.8"/>
<line x1="326.5" y1="417.07" x2="328.9" y2="417.07" stroke="#000" stroke-width="0.8"/>
<line x1="326.5" y1="415.82" x2="328.9" y2="415.82" stroke="#000" stroke-width="0.8"/>
<line x1="326.5" y1="414.76" x2="328.9" y2="414.76" stroke="#000" stroke-width="0.8"/>
<line x1="326.5" y1="413.84" x2="328.9" y2="413.84" stroke="#000" stroke-width="0.8"/>
<line x1="326.5" y1="413.03" x2="328.9" y2="413.03" stroke="#000" stroke-width="0.8"/>
<line x1="326.5" y1="412.3" x2="331.3" y2="412.3" stroke="#000" stroke-width="1.4"/>
<line x1="326.5" y1="407.53" x2="328.9" y2="407.53" stroke="#000" stroke-width="0.8"/>
<line x1="326.5" y1="404.74" x2="328.9" y2="404.74" stroke="#000" stroke-width="0.8"/>
<line x1="326.5" y1="402.76" x2="328.9" y2="402.76" stroke="#000" stroke-width="0.8"/>
<line x1="326.5" y1="401.22" x2="328.9" y2="401.22" stroke="#000" stroke-width="0.8"/>
<line x1="326.5" y1="399.97" x2="328.9" y2="399.97" stroke="#000" stroke-width="0.8"/>
<line x1="326.5" y1="398.91" x2="328.9" y2="398.91" stroke="#000" stroke-width="0.8"/>
<line x1="326.5" y1="397.99" x2="328.9" y2="397.99" stroke="#000" stroke-width="0.8"/>
<line x1="326.5" y1="397.18" x2="328.9" y2="397.18" stroke="#000" stroke-width="0.8"/>
<text x="323.3" y="411.2" font-size="8.6" text-anchor="end" font-family="Liberation Sans, sans-serif" font-weight="bold" stroke-width="0.25" paint-order="fill" stroke="#000">-10</text>
<text x="310.67" y="417.5" font-size="13" text-anchor="end" textLength="12.8" lengthAdjust="spacingAndGlyphs" font-family="Liberation Sans, sans-serif" font-weight="bold" stroke-width="0.25" paint-order="fill" stroke="#000">10</text>
<line x1="326.5" y1="396.45" x2="330.9" y2="396.45" stroke="#000" stroke-width="1.4"/>
<line x1="326.5" y1="391.68" x2="328.9" y2="391.68" stroke="#000" stroke-width="0.8"/>
<line x1="326.5" y1="388.89" x2="328.9" y2="388.89" stroke="#000" stroke-width="0.8"/>
<line x1="326.5" y1="386.91" x2="328.9" y2="386.91" stroke="#000" stroke-width="0.8"/>
<line x1="326.5" y1="385.37" x2="328.9" y2="385.37" stroke="#000" stroke-width="0.8"/>
<line x1="326.5" y1="384.12" x2="328.9" y2="384.12" stroke="#000" stroke-width="0.8"/>
<line x1="326.5" y1="383.06" x2="328.9" y2="383.06" stroke="#000" stroke-width="0.8"/>
<line x1="326.5" y1="382.14" x2="328.9" y2="382.14" stroke="#000" stroke-width="0.8"/>
<line x1="326.5" y1="381.33" x2="328.9" y2="381.33" stroke="#000" stroke-width="0.8"/>
<line x1="326.5" y1="380.6" x2="331.3" y2="380.6" stroke="#000" stroke-width="1.4"/>
<line x1="326.5" y1="375.83" x2="328.9" y2="375.83" stroke="#000" stroke-width="0.8"/>
<line x1="326.5" y1="373.04" x2="328.9" y2="373.04" stroke="#000" stroke-width="0.8"/>
<line x1="326.5" y1="371.06" x2="328.9" y2="371.06" stroke="#000" stroke-width="0.8"/>
<line x1="326.5" y1="369.52" x2="328.9" y2="369.52" stroke="#000" stroke-width="0.8"/>
<line x1="326.5" y1="368.27" x2="328.9" y2="368.27" stroke="#000" stroke-width="0.8"/>
<line x1="326.5" y1="367.21" x2="328.9" y2="367.21" stroke="#000" stroke-width="0.8"/>
<line x1="326.5" y1="366.29" x2="328.9" y2="366.29" stroke="#000" stroke-width="0.8"/>
<line x1="326.5" y1="365.48" x2="328.9" y2="365.48" stroke="#000" stroke-width="0.8"/>
<text x="323.3" y="379.5" font-size="8.6" text-anchor="end" font-family="Liberation Sans, sans-serif" font-weight="bold" stroke-width="0.25" paint-order="fill" stroke="#000">-8</text>
<text x="315.45" y="385.8" font-size="13" text-anchor="end" textLength="12.8" lengthAdjust="spacingAndGlyphs" font-family="Liberation Sans, sans-serif" font-weight="bold" stroke-width="0.25" paint-order="fill" stroke="#000">10</text>
<line x1="326.5" y1="364.75" x2="330.9" y2="364.75" stroke="#000" stroke-width="1.4"/>
<line x1="326.5" y1="359.98" x2="328.9" y2="359.98" stroke="#000" stroke-width="0.8"/>
<line x1="326.5" y1="357.19" x2="328.9" y2="357.19" stroke="#000" stroke-width="0.8"/>
<line x1="326.5" y1="355.21" x2="328.9" y2="355.21" stroke="#000" stroke-width="0.8"/>
<line x1="326.5" y1="353.67" x2="328.9" y2="353.67" stroke="#000" stroke-width="0.8"/>
<line x1="326.5" y1="352.42" x2="328.9" y2="352.42" stroke="#000" stroke-width="0.8"/>
<line x1="326.5" y1="351.36" x2="328.9" y2="351.36" stroke="#000" stroke-width="0.8"/>
<line x1="326.5" y1="350.44" x2="328.9" y2="350.44" stroke="#000" stroke-width="0.8"/>
<line x1="326.5" y1="349.63" x2="328.9" y2="349.63" stroke="#000" stroke-width="0.8"/>
<line x1="326.5" y1="348.9" x2="331.3" y2="348.9" stroke="#000" stroke-width="1.4"/>
<line x1="326.5" y1="344.13" x2="328.9" y2="344.13" stroke="#000" stroke-width="0.8"/>
<line x1="326.5" y1="341.34" x2="328.9" y2="341.34" stroke="#000" stroke-width="0.8"/>
<line x1="326.5" y1="339.36" x2="328.9" y2="339.36" stroke="#000" stroke-width="0.8"/>
<line x1="326.5" y1="337.82" x2="328.9" y2="337.82" stroke="#000" stroke-width="0.8"/>
<line x1="326.5" y1="336.57" x2="328.9" y2="336.57" stroke="#000" stroke-width="0.8"/>
<line x1="326.5" y1="335.51" x2="328.9" y2="335.51" stroke="#000" stroke-width="0.8"/>
<line x1="326.5" y1="334.59" x2="328.9" y2="334.59" stroke="#000" stroke-width="0.8"/>
<line x1="326.5" y1="333.78" x2="328.9" y2="333.78" stroke="#000" stroke-width="0.8"/>
<text x="323.3" y="347.8" font-size="8.6" text-anchor="end" font-family="Liberation Sans, sans-serif" font-weight="bold" stroke-width="0.25" paint-order="fill" stroke="#000">-6</text>
<text x="315.45" y="354.1" font-size="13" text-anchor="end" textLength="12.8" lengthAdjust="spacingAndGlyphs" font-family="Liberation Sans, sans-serif" font-weight="bold" stroke-width="0.25" paint-order="fill" stroke="#000">10</text>
<line x1="326.5" y1="333.05" x2="330.9" y2="333.05" stroke="#000" stroke-width="1.4"/>
<line x1="326.5" y1="328.28" x2="328.9" y2="328.28" stroke="#000" stroke-width="0.8"/>
<line x1="326.5" y1="325.49" x2="328.9" y2="325.49" stroke="#000" stroke-width="0.8"/>
<line x1="326.5" y1="323.51" x2="328.9" y2="323.51" stroke="#000" stroke-width="0.8"/>
<line x1="326.5" y1="321.97" x2="328.9" y2="321.97" stroke="#000" stroke-width="0.8"/>
<line x1="326.5" y1="320.72" x2="328.9" y2="320.72" stroke="#000" stroke-width="0.8"/>
<line x1="326.5" y1="319.66" x2="328.9" y2="319.66" stroke="#000" stroke-width="0.8"/>
<line x1="326.5" y1="318.74" x2="328.9" y2="318.74" stroke="#000" stroke-width="0.8"/>
<line x1="326.5" y1="317.93" x2="328.9" y2="317.93" stroke="#000" stroke-width="0.8"/>
<line x1="326.5" y1="317.2" x2="331.3" y2="317.2" stroke="#000" stroke-width="1.4"/>
<line x1="326.5" y1="312.43" x2="328.9" y2="312.43" stroke="#000" stroke-width="0.8"/>
<line x1="326.5" y1="309.64" x2="328.9" y2="309.64" stroke="#000" stroke-width="0.8"/>
<line x1="326.5" y1="307.66" x2="328.9" y2="307.66" stroke="#000" stroke-width="0.8"/>
<line x1="326.5" y1="306.12" x2="328.9" y2="306.12" stroke="#000" stroke-width="0.8"/>
<line x1="326.5" y1="304.87" x2="328.9" y2="304.87" stroke="#000" stroke-width="0.8"/>
<line x1="326.5" y1="303.81" x2="328.9" y2="303.81" stroke="#000" stroke-width="0.8"/>
<line x1="326.5" y1="302.89" x2="328.9" y2="302.89" stroke="#000" stroke-width="0.8"/>
<line x1="326.5" y1="302.08" x2="328.9" y2="302.08" stroke="#000" stroke-width="0.8"/>
<text x="323.3" y="316.1" font-size="8.6" text-anchor="end" font-family="Liberation Sans, sans-serif" font-weight="bold" stroke-width="0.25" paint-order="fill" stroke="#000">-4</text>
<text x="315.45" y="322.4" font-size="13" text-anchor="end" textLength="12.8" lengthAdjust="spacingAndGlyphs" font-family="Liberation Sans, sans-serif" font-weight="bold" stroke-width="0.25" paint-order="fill" stroke="#000">10</text>
<line x1="326.5" y1="301.35" x2="330.9" y2="301.35" stroke="#000" stroke-width="1.4"/>
<line x1="326.5" y1="296.58" x2="328.9" y2="296.58" stroke="#000" stroke-width="0.8"/>
<line x1="326.5" y1="293.79" x2="328.9" y2="293.79" stroke="#000" stroke-width="0.8"/>
<line x1="326.5" y1="291.81" x2="328.9" y2="291.81" stroke="#000" stroke-width="0.8"/>
<line x1="326.5" y1="290.27" x2="328.9" y2="290.27" stroke="#000" stroke-width="0.8"/>
<line x1="326.5" y1="289.02" x2="328.9" y2="289.02" stroke="#000" stroke-width="0.8"/>
<line x1="326.5" y1="287.96" x2="328.9" y2="287.96" stroke="#000" stroke-width="0.8"/>
<line x1="326.5" y1="287.04" x2="328.9" y2="287.04" stroke="#000" stroke-width="0.8"/>
<line x1="326.5" y1="286.23" x2="328.9" y2="286.23" stroke="#000" stroke-width="0.8"/>
<line x1="326.5" y1="285.5" x2="331.3" y2="285.5" stroke="#000" stroke-width="1.4"/>
<text x="323.3" y="284.4" font-size="8.6" text-anchor="end" font-family="Liberation Sans, sans-serif" font-weight="bold" stroke-width="0.25" paint-order="fill" stroke="#000">-2</text>
<text x="315.45" y="290.7" font-size="13" text-anchor="end" textLength="12.8" lengthAdjust="spacingAndGlyphs" font-family="Liberation Sans, sans-serif" font-weight="bold" stroke-width="0.25" paint-order="fill" stroke="#000">10</text>
<polyline points="332.2,378.89 346.1,381.83 369.2,386.92 392.4,391.42 408.5,395.6 414,398.59 420.1,402.8 424.7,407.47 428,409.83 431.7,413.39 434.5,416.44 434,424 437.4,446" fill="none" stroke="#808080" stroke-width="1.0" stroke-linejoin="round" stroke-linecap="butt" />
<polyline points="332.2,376.58 346.1,379.75 369.2,385.25 392.4,390.14 408.5,394.59 414,397.68 420.1,401.99 424.7,406.75 428,409.16 431.7,412.79 434.5,415.89 434,424 437.4,446" fill="none" stroke="#808080" stroke-width="1.0" stroke-linejoin="round" stroke-linecap="butt" />
<polyline points="332.2,374.27 346.1,377.68 369.2,383.57 392.4,388.86 408.5,393.59 414,396.77 420.1,401.19 424.7,406.02 428,408.49 431.7,412.18 434.5,415.33 434,424 437.4,446" fill="none" stroke="#808080" stroke-width="1.0" stroke-linejoin="round" stroke-linecap="butt" />
<polyline points="332.6,375.4 340.1,374 348.5,377.1 365.3,380.4 380.5,382.1 392.2,383.8 405,385.5 415,390 425,398 432,410 437.4,446" fill="none" stroke="#808080" stroke-width="1.0" stroke-linejoin="round" stroke-linecap="butt" />
<polyline points="332.6,372.9 341.8,375.4 365.3,378.7 385.5,375.4 392.2,373.7 405,375.4 415,382 424,392 430,402 437.4,440" fill="none" stroke="#808080" stroke-width="1.0" stroke-linejoin="round" stroke-linecap="butt" />
<polyline points="330,380 333,372 335,360 337,368 340,380" fill="none" stroke="#808080" stroke-width="1.0" stroke-linejoin="round" stroke-linecap="butt" />
<polyline points="348.5,372 348.5,346 352.7,348.5 357.8,344.3 362,346.8 367.9,346.8 375.4,346 380.5,350.2 384.7,348.5 392,350 400,352 405,351 412,355 418,365 423,380" fill="none" stroke="#808080" stroke-width="1.0" stroke-linejoin="round" stroke-linecap="butt" />
<polyline points="333.4,370.3 335.1,362.8 337.6,372 341.8,367 346.8,363.6 351.9,368.7 358.6,370.3 361.1,362.8 365.3,363.6 366.2,383.8" fill="none" stroke="#808080" stroke-width="1.0" stroke-linejoin="round" stroke-linecap="butt" />
<polyline points="350.2,346.8 367,348.5 373.7,351.8 387.2,348.5 392.2,351.8 405,351 412,360 420,380 424,410" fill="none" stroke="#808080" stroke-width="1.0" stroke-linejoin="round" stroke-linecap="butt" />
<polyline points="384.7,372 384.7,335 392.2,333.4 393.9,330 398,322 403.7,317.1 410.3,314.9 414.6,310.5 419,302.9 424,303.4 428.6,307.6 432.8,313.9 437,324.4 437.4,360" fill="none" stroke="#808080" stroke-width="1.0" stroke-linejoin="round" stroke-linecap="butt" />
<polyline points="393.9,377 393.9,336.7" fill="none" stroke="#808080" stroke-width="1.0" stroke-linejoin="round" stroke-linecap="butt" />
<polyline points="349.2,347.6 355.7,345.5 357.9,344.4 366.6,347.6 368.8,346.5 375.4,343.3 377.6,345.5 384.1,335.6 388.5,334.5 392.8,325.8 399.4,322.5 403.7,317.1 410.3,314.9 414.6,310.5 417,303.4 420.2,302.3 424.4,303.4 428.6,307.6 432.8,313.9 437,330" fill="none" stroke="#808080" stroke-width="1.0" stroke-linejoin="round" stroke-linecap="butt" />
<polyline points="366,384 380,376 390,372 398,366 404,358 406,343 410,338 413,330 416,325 420,312 426,310 432,318 436,340" fill="none" stroke="#808080" stroke-width="1.0" stroke-linejoin="round" stroke-linecap="butt" />
<polyline points="360,382 372,380 378,374 388,366 395,365 400,360 402,345 405,342 408,330 412,322 418,318 425,318 430,325 434,340 436,380" fill="none" stroke="#808080" stroke-width="1.0" stroke-linejoin="round" stroke-linecap="butt" />
<polyline points="395,326.5 401.3,324.4 405.5,316 409.7,313.9 416,307.6 422,306 428,310 433,320 437,350" fill="none" stroke="#808080" stroke-width="1.0" stroke-linejoin="round" stroke-linecap="butt" />
<polyline points="405,392 408,375 410,365 414,355 417,349 420,340 423,335 428,340 431,360 433,395" fill="none" stroke="#808080" stroke-width="1.0" stroke-linejoin="round" stroke-linecap="butt" />
<polyline points="418,380 421,360 424,350 428,355 432,375 436,420" fill="none" stroke="#808080" stroke-width="1.0" stroke-linejoin="round" stroke-linecap="butt" />
<polyline points="420,370 423.8,370 423.8,410 427,412" fill="none" stroke="#808080" stroke-width="1.0" stroke-linejoin="round" stroke-linecap="butt" />
<polyline points="402,378 404,370 407,355 409,350 412,347 416,343 419,350 424,360 427,370 429,396" fill="none" stroke="#808080" stroke-width="1.0" stroke-linejoin="round" stroke-linecap="butt" />
<polyline points="402.86,384.31 404.06,363.45 408.26,363.35 408.93,344.82 414.27,343.39 415.22,329.05 421.7,329.43 422.81,313.81 426.84,314.41 426.94,315.04 430.94,319.04 434.94,327.04 435.5,340.04 437.2,353.71" fill="none" stroke="#808080" stroke-width="1.0" stroke-linejoin="round" stroke-linecap="butt" />
<polyline points="411.96,373.39 412.62,354.17 412.52,355.54 413.27,346.17 413.51,346.82 415.01,335.44 413.42,337.43 413.89,328.51 414.91,327.43 414.5,326.63 418.5,330.63 422.5,338.63 435.5,351.63 437.2,346.36" fill="none" stroke="#808080" stroke-width="1.0" stroke-linejoin="round" stroke-linecap="butt" />
<polyline points="393.69,388.86 394.71,359.1 401.36,357.96 401.92,345.69 410.07,346.52 410.37,324.64 419.74,325.34 419.61,325.7 423.61,329.7 427.61,337.7 435.5,350.7 437.2,347.41" fill="none" stroke="#808080" stroke-width="1.0" stroke-linejoin="round" stroke-linecap="butt" />
<polyline points="399.47,372.33 399.56,344.5 408.81,345.69 409.48,325.08 419.86,323.85 419.74,327.84 423.74,331.84 427.74,339.84 435.5,352.84 437.2,356.1" fill="none" stroke="#808080" stroke-width="1.0" stroke-linejoin="round" stroke-linecap="butt" />
<polyline points="395.14,386.16 396.61,340.59 406.12,340.96 406.4,316.77 414.67,318.75 415.63,313.78 419.63,317.78 423.63,325.78 435.5,338.78 437.2,353.24" fill="none" stroke="#808080" stroke-width="1.0" stroke-linejoin="round" stroke-linecap="butt" />
<polyline points="405.85,372.93 406.29,340.7 410.61,338.99 410.97,310.99 416.21,311.4 416.05,314.36 420.05,318.36 424.05,326.36 435.5,339.36 437.2,348.18" fill="none" stroke="#808080" stroke-width="1.0" stroke-linejoin="round" stroke-linecap="butt" />
<polyline points="402.88,393.1 404.24,359.23 408.15,360.5 409.26,336.61 414.19,338.38 415.51,315.46 421.67,315.88 420.77,318.09 424.77,322.09 428.77,330.09 435.5,343.09 437.2,349.27" fill="none" stroke="#808080" stroke-width="1.0" stroke-linejoin="round" stroke-linecap="butt" />
<polyline points="394.49,372.85 395.85,350.42 402.58,350.39 404.05,335.63 411.84,334.14 412.77,321.22 419.54,319.52 420.66,306.16 428.31,304.44 427.48,308.68 431.48,312.68 435.48,320.68 435.5,333.68 437.2,349.05" fill="none" stroke="#808080" stroke-width="1.0" stroke-linejoin="round" stroke-linecap="butt" />
<polyline points="397.98,373.03 398.65,337.42 407.24,336.74 408.66,318 417.99,318.36 417.95,316.87 421.95,320.87 425.95,328.87 435.5,341.87 437.2,360.32" fill="none" stroke="#808080" stroke-width="1.0" stroke-linejoin="round" stroke-linecap="butt" />
<polyline points="403.4,379.86 404.49,354.94 407.1,354.22 407.92,338.68 410.03,339.63 411.09,321.05 415.1,322.23 416.12,305.34 418.07,306.95 418.37,302.94 422.37,306.94 426.37,314.94 435.5,327.94 437.2,359.16" fill="none" stroke="#808080" stroke-width="1.0" stroke-linejoin="round" stroke-linecap="butt" />
<polyline points="402.01,389.39 402.03,366.49 407.79,364.78 408.18,345.04 413.28,344.71 414.32,331.02 420.94,330.85 421.72,317.28 426.17,317.34 426.09,318.04 430.09,322.04 434.09,330.04 435.5,343.04 437.2,346.83" fill="none" stroke="#808080" stroke-width="1.0" stroke-linejoin="round" stroke-linecap="butt" />
<polyline points="394.11,372.49 395.45,350.9 402.4,350.37 403.18,330.82 410.98,331.84 411.73,317.4 419.94,316.37 420.89,303.99 426.9,305.21 427.4,305.16 431.4,309.16 435.4,317.16 435.5,330.16 437.2,356.6" fill="none" stroke="#808080" stroke-width="1.0" stroke-linejoin="round" stroke-linecap="butt" />
<polyline points="396.81,376.71 398.06,345.56 406.93,346.96 407.35,328.76 417.97,327.44 417.07,327.78 421.07,331.78 425.07,339.78 435.5,352.78 437.2,349.91" fill="none" stroke="#808080" stroke-width="1.0" stroke-linejoin="round" stroke-linecap="butt" />
<polyline points="398.6,376.71 399.87,353.67 406.1,354.17 406.52,333.61 413.39,334.04 413.92,320.27 419.36,320.87 419.8,319.52 423.8,323.52 427.8,331.52 435.5,344.52 437.2,352.41" fill="none" stroke="#808080" stroke-width="1.0" stroke-linejoin="round" stroke-linecap="butt" />
<polyline points="437.6,380 438.5,340 440,325 443,319 448,317.6" fill="none" stroke="#808080" stroke-width="1.0" stroke-linejoin="round" stroke-linecap="butt" />
<polyline points="437.6,376 438.5,338 440,325 443,319 448,317.6" fill="none" stroke="#808080" stroke-width="1.0" stroke-linejoin="round" stroke-linecap="butt" />
<polyline points="437.6,372 438.5,336 440,325 443,319 448,317.6" fill="none" stroke="#808080" stroke-width="1.0" stroke-linejoin="round" stroke-linecap="butt" />
<polyline points="437.6,368 438.5,334 440,325 443,319 448,317.6" fill="none" stroke="#808080" stroke-width="1.0" stroke-linejoin="round" stroke-linecap="butt" />
<polyline points="437.6,364 438.5,332 440,325 443,319 448,317.6" fill="none" stroke="#808080" stroke-width="1.0" stroke-linejoin="round" stroke-linecap="butt" />
<polyline points="437.6,446 440,420 445,408 451,405 491,381 493,380" fill="none" stroke="#808080" stroke-width="1.0" stroke-linejoin="round" stroke-linecap="butt" />
<polyline points="437.6,447 440,421 445,409 451,406 491,382 493,381" fill="none" stroke="#808080" stroke-width="1.0" stroke-linejoin="round" stroke-linecap="butt" />
<polyline points="437.6,448 440,422 445,410 451,407 491,383 493,382" fill="none" stroke="#808080" stroke-width="1.0" stroke-linejoin="round" stroke-linecap="butt" />
<polyline points="437.6,449 440,423 445,411 451,408 491,384 493,383" fill="none" stroke="#808080" stroke-width="1.0" stroke-linejoin="round" stroke-linecap="butt" />
<polyline points="449.5,317.6 448.9,407.03" fill="none" stroke="#777" stroke-width="1.0" stroke-linejoin="round" stroke-linecap="butt" />
<polyline points="451,317.6 450.4,405.81" fill="none" stroke="#777" stroke-width="1.0" stroke-linejoin="round" stroke-linecap="butt" />
<polyline points="452.5,317.6 451.9,404.48" fill="none" stroke="#777" stroke-width="1.0" stroke-linejoin="round" stroke-linecap="butt" />
<polyline points="454.2,317.6 453.6,404.62" fill="none" stroke="#777" stroke-width="1.0" stroke-linejoin="round" stroke-linecap="butt" />
<polyline points="456.3,317.6 455.7,402.35" fill="none" stroke="#777" stroke-width="1.0" stroke-linejoin="round" stroke-linecap="butt" />
<polyline points="458,317.6 457.4,402.36" fill="none" stroke="#777" stroke-width="1.0" stroke-linejoin="round" stroke-linecap="butt" />
<polyline points="459.4,317.6 458.8,401.55" fill="none" stroke="#777" stroke-width="1.0" stroke-linejoin="round" stroke-linecap="butt" />
<polyline points="461.5,317.6 460.9,400.67" fill="none" stroke="#777" stroke-width="1.0" stroke-linejoin="round" stroke-linecap="butt" />
<polyline points="463.6,317.6 463,397.67" fill="none" stroke="#777" stroke-width="1.0" stroke-linejoin="round" stroke-linecap="butt" />
<polyline points="465.7,317.6 465.1,396.4" fill="none" stroke="#777" stroke-width="1.0" stroke-linejoin="round" stroke-linecap="butt" />
<polyline points="467.8,317.6 467.2,395.99" fill="none" stroke="#777" stroke-width="1.0" stroke-linejoin="round" stroke-linecap="butt" />
<polyline points="469.9,317.6 469.3,394.94" fill="none" stroke="#777" stroke-width="1.0" stroke-linejoin="round" stroke-linecap="butt" />
<polyline points="472,317.6 471.4,393.14" fill="none" stroke="#777" stroke-width="1.0" stroke-linejoin="round" stroke-linecap="butt" />
<polyline points="478,317.6 477.4,388.96" fill="none" stroke="#777" stroke-width="1.0" stroke-linejoin="round" stroke-linecap="butt" />
<polyline points="480.5,317.6 479.9,387.7" fill="none" stroke="#777" stroke-width="1.0" stroke-linejoin="round" stroke-linecap="butt" />
<polyline points="484.7,317.6 484.1,386.43" fill="none" stroke="#777" stroke-width="1.0" stroke-linejoin="round" stroke-linecap="butt" />
<polyline points="487.8,317.6 487.2,383.43" fill="none" stroke="#777" stroke-width="1.0" stroke-linejoin="round" stroke-linecap="butt" />
<polyline points="459.5,322 464,325.6 459.5,329.2 464,332.8 459.5,336.4 464,340 459.5,343.6 464,347.2" fill="none" stroke="#707070" stroke-width="1.0" stroke-linejoin="round" stroke-linecap="butt" />
<polyline points="463,322 467.5,325.6 463,329.2 467.5,332.8 463,336.4 467.5,340 463,343.6 467.5,347.2" fill="none" stroke="#707070" stroke-width="1.0" stroke-linejoin="round" stroke-linecap="butt" />
<polyline points="466.5,322 471,325.6 466.5,329.2 471,332.8 466.5,336.4 471,340 466.5,343.6 471,347.2" fill="none" stroke="#707070" stroke-width="1.0" stroke-linejoin="round" stroke-linecap="butt" />
<polyline points="332.2,382.6 346.1,385.3 369.2,390 392.4,394 408.5,398 414,401 417.4,403.2 423.8,407.2 427,409.6 430,414 433,418 435.5,424 436.9,435.5 438.5,428 441,418 444,410 447,404 451,401.5 459.4,400.6 475.2,393.3 475.2,317.6" fill="none" stroke="#0000ff" stroke-width="2.6" stroke-linejoin="round" stroke-linecap="butt" />
<polyline points="374.6,387.1 377.1,382.9 378.8,385.5 382.1,381.3 385.5,383 388,382.1 389.7,389.7 392.2,388 395.6,392.2" fill="none" stroke="#0000ff" stroke-width="2.6" stroke-linejoin="round" stroke-linecap="butt" />
<polyline points="403.4,394.5 405,391.5 407.6,378.9 409.7,374.7 411.8,376.8 414.9,381 416,374.7 418.1,366.3 420.2,355.8 422.3,337 424.4,316 426.5,318.1 429.6,322.3 432.8,330.7 435.9,339.1 437.8,343.3 439,326 441,319.5 444,317.6 450,317.6" fill="none" stroke="#0000ff" stroke-width="2.6" stroke-linejoin="round" stroke-linecap="butt" />
<polyline points="411.8,397.5 411.8,394.9 412.8,351.6 414.9,339.1 417,334.9 420.2,332.8 421.2,326.5 422.3,314.9 423.3,312.2 426.5,313.9 430.7,318.1 433.8,324.4 435.9,334.9 437.4,345.3 438.6,330 440,322 443,318.2 447,317.6 492.6,317.6 492.6,389 486.8,390.1 482.6,391.2 478.4,390.1 474.1,392.2 469.9,388 467.8,389.1 463.6,395.4 457.3,399.6" fill="none" stroke="#000000" stroke-width="2.6" stroke-linejoin="round" stroke-linecap="butt" />
<polyline points="332.2,381.2 346.1,383.9 369.2,388.6 392.4,392.7 408.5,396.6 414,399.5 420.1,403.6 424.7,408.2 428,410.5 431.7,414 434.5,417 436.9,424 437.4,425.5 439,418 441.3,414 444.5,410 446.6,402 447.5,395 447.5,317.6" fill="none" stroke="#ff0000" stroke-width="2.6" stroke-linejoin="round" stroke-linecap="butt" />
<polyline points="404.6,397.2 409.4,398 410.2,396.4 411.8,394 413.4,398 414.9,383.1 417,370.5 419.1,353.7 421.2,345.3 423.3,343.2 425.4,344.3 427.5,335.9 429.6,328.6 432.8,331.7 434.9,340.1 437,355.5 438,345.3 439.1,318.1 442.2,316.4 446.8,317.6 548,317.6" fill="none" stroke="#ff0000" stroke-width="2.8" stroke-linejoin="round" stroke-linecap="butt" />
<rect x="326.5" y="285.5" width="221.3" height="158.5" fill="none" stroke="#000" stroke-width="2.2"/>
<text x="422.5" y="261" font-size="20" text-anchor="middle" fill="#000" font-family="Liberation Sans, sans-serif" font-weight="bold" stroke-width="0.25" paint-order="fill"  stroke="#000">(d)</text>
<text x="438" y="277.6" font-size="12.4" text-anchor="middle" font-family="Liberation Sans, sans-serif" font-weight="bold" stroke-width="0.25" paint-order="fill" stroke="#000">Cu<tspan font-size="8" dy="3">0.27</tspan><tspan dy="-3">Sn</tspan><tspan font-size="8" dy="3">0.73</tspan><tspan dy="-3" fill="#ff0000" stroke="#ff0000"> /Lu(2.5nm)/</tspan><tspan>Al</tspan><tspan font-size="8" dy="3">2</tspan><tspan dy="-3">O</tspan><tspan font-size="8" dy="3">3</tspan><tspan dy="-3">(3nm)/Pt</tspan></text>
<text x="437.3" y="472" font-size="13.0" text-anchor="middle" fill="#000" font-family="Liberation Sans, sans-serif" font-weight="bold" stroke-width="0.25" paint-order="fill"  stroke="#000">Applied Bias Voltage (V)</text>
<text x="292" y="364.5" font-size="13.1" text-anchor="middle" font-family="Liberation Sans, sans-serif" font-weight="bold" stroke-width="0.25" paint-order="fill" transform="rotate(-90 292 364.5)" stroke="#000"><tspan font-style="italic">Abs Current</tspan> (A)</text>
<rect x="446.4" y="400.7" width="94.9" height="39.3" fill="#fff" stroke="#c8c8c8" stroke-width="0.8"/>
<line x1="457.3" y1="408.4" x2="476.9" y2="408.4" stroke="#000" stroke-width="2.2"/>
<text x="479" y="412.1" font-size="10.2" text-anchor="start" fill="#000" font-family="Liberation Sans, sans-serif" font-weight="bold" stroke-width="0.25" paint-order="fill"  stroke="#000">1st Sweep</text>
<line x1="457.3" y1="421.45" x2="476.9" y2="421.45" stroke="#0000ff" stroke-width="2.2"/>
<text x="479" y="425.15" font-size="10.2" text-anchor="start" fill="#0000ff" font-family="Liberation Sans, sans-serif" font-weight="bold" stroke-width="0.25" paint-order="fill"  stroke="#0000ff">25th Sweep</text>
<line x1="457.3" y1="434.5" x2="476.9" y2="434.5" stroke="#ff0000" stroke-width="2.2"/>
<text x="479" y="438.2" font-size="10.2" text-anchor="start" fill="#ff0000" font-family="Liberation Sans, sans-serif" font-weight="bold" stroke-width="0.25" paint-order="fill"  stroke="#ff0000">50th Sweep</text>
</svg></body></html>
